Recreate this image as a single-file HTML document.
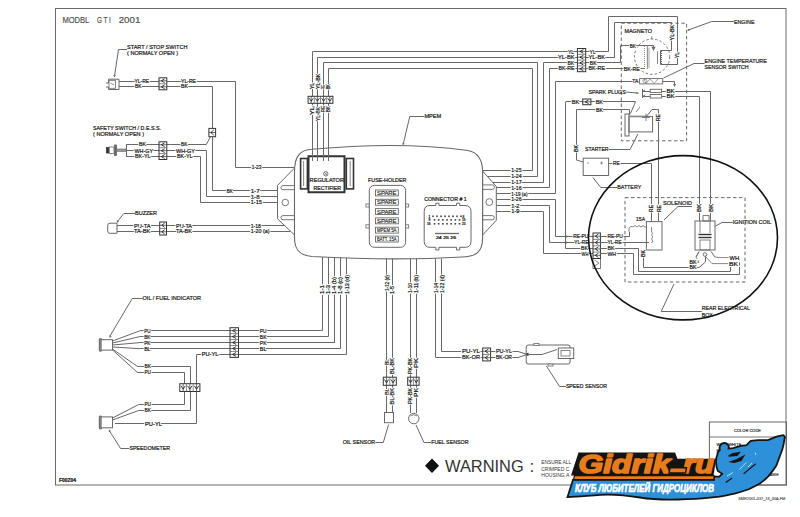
<!DOCTYPE html>
<html><head><meta charset="utf-8"><style>
html,body{margin:0;padding:0;background:#fff;width:800px;height:517px;overflow:hidden}
svg{display:block;font-family:"Liberation Sans",sans-serif}
.h{paint-order:stroke fill;stroke:#fff;stroke-width:2.2px;stroke-linejoin:round}
</style></head><body>
<svg width="800" height="517" viewBox="0 0 800 517">
<rect x="55.5" y="8.5" width="730.5" height="476.5" rx="0" fill="none" stroke="#6a6a6a" stroke-width="1"/>
<text x="62.4" y="23" font-size="9.9" font-weight="normal" fill="#505050" stroke="#505050" stroke-width="0.2" text-anchor="start" textLength="26.9" lengthAdjust="spacingAndGlyphs">MODBL</text>
<text x="96.9" y="23" font-size="9.9" font-weight="normal" fill="#505050" stroke="#505050" stroke-width="0.2" text-anchor="start" textLength="13.8" lengthAdjust="spacingAndGlyphs">G T I</text>
<text x="118.7" y="23" font-size="9.9" font-weight="normal" fill="#505050" stroke="#505050" stroke-width="0.2" text-anchor="start" textLength="21.7" lengthAdjust="spacingAndGlyphs">2001</text>
<text x="127" y="48.6" font-size="6.1" font-weight="normal" fill="#1a1a1a" stroke="#1a1a1a" stroke-width="0.22" text-anchor="start" textLength="60.4" lengthAdjust="spacingAndGlyphs">START / STOP SWITCH</text>
<text x="127" y="55.3" font-size="6.1" font-weight="normal" fill="#1a1a1a" stroke="#1a1a1a" stroke-width="0.22" text-anchor="start" textLength="51" lengthAdjust="spacingAndGlyphs">( NORMALY OPEN )</text>
<polyline points="127,49.5 118.5,49.5 114.5,76" fill="none" stroke="#686868" stroke-width="1"/>
<polygon points="114.5,77.5 113.25,75 115.75,75" fill="#686868"/>
<polyline points="119,81.5 235.5,81.5 235.5,167.5 295,167.5" fill="none" stroke="#686868" stroke-width="1"/>
<polyline points="119,86.5 212.5,86.5 212.5,190.5 278,190.5" fill="none" stroke="#686868" stroke-width="1"/>
<text x="134.5" y="83.46" font-size="5.6" font-weight="normal" fill="#fff" stroke="#fff" stroke-width="2.2" text-anchor="start" textLength="14.5" lengthAdjust="spacingAndGlyphs">YL-RE</text>
<text x="134.5" y="83.46" font-size="5.6" font-weight="normal" fill="#1a1a1a" stroke="#1a1a1a" stroke-width="0.22" text-anchor="start" textLength="14.5" lengthAdjust="spacingAndGlyphs">YL-RE</text>
<text x="135" y="88.46" font-size="5.6" font-weight="normal" fill="#fff" stroke="#fff" stroke-width="2.2" text-anchor="start" textLength="6.5" lengthAdjust="spacingAndGlyphs">BK</text>
<text x="135" y="88.46" font-size="5.6" font-weight="normal" fill="#1a1a1a" stroke="#1a1a1a" stroke-width="0.22" text-anchor="start" textLength="6.5" lengthAdjust="spacingAndGlyphs">BK</text>
<text x="181" y="83.46" font-size="5.6" font-weight="normal" fill="#fff" stroke="#fff" stroke-width="2.2" text-anchor="start" textLength="15" lengthAdjust="spacingAndGlyphs">YL-RE</text>
<text x="181" y="83.46" font-size="5.6" font-weight="normal" fill="#1a1a1a" stroke="#1a1a1a" stroke-width="0.22" text-anchor="start" textLength="15" lengthAdjust="spacingAndGlyphs">YL-RE</text>
<text x="181" y="88.46" font-size="5.6" font-weight="normal" fill="#fff" stroke="#fff" stroke-width="2.2" text-anchor="start" textLength="7" lengthAdjust="spacingAndGlyphs">BK</text>
<text x="181" y="88.46" font-size="5.6" font-weight="normal" fill="#1a1a1a" stroke="#1a1a1a" stroke-width="0.22" text-anchor="start" textLength="7" lengthAdjust="spacingAndGlyphs">BK</text>
<text x="251.7" y="168.96" font-size="5.6" font-weight="normal" fill="#fff" stroke="#fff" stroke-width="2.2" text-anchor="start" textLength="9.7" lengthAdjust="spacingAndGlyphs">1-23</text>
<text x="251.7" y="168.96" font-size="5.6" font-weight="normal" fill="#1a1a1a" stroke="#1a1a1a" stroke-width="0.22" text-anchor="start" textLength="9.7" lengthAdjust="spacingAndGlyphs">1-23</text>
<text x="226.8" y="192.76" font-size="5.6" font-weight="normal" fill="#fff" stroke="#fff" stroke-width="2.2" text-anchor="start" textLength="6" lengthAdjust="spacingAndGlyphs">BK</text>
<text x="226.8" y="192.76" font-size="5.6" font-weight="normal" fill="#1a1a1a" stroke="#1a1a1a" stroke-width="0.22" text-anchor="start" textLength="6" lengthAdjust="spacingAndGlyphs">BK</text>
<text x="250.7" y="192.76" font-size="5.6" font-weight="normal" fill="#fff" stroke="#fff" stroke-width="2.2" text-anchor="start" textLength="8.9" lengthAdjust="spacingAndGlyphs">1-7</text>
<text x="250.7" y="192.76" font-size="5.6" font-weight="normal" fill="#1a1a1a" stroke="#1a1a1a" stroke-width="0.22" text-anchor="start" textLength="8.9" lengthAdjust="spacingAndGlyphs">1-7</text>
<rect x="159" y="77.8" width="7.8" height="12" rx="0" fill="#fff" stroke="#333" stroke-width="1"/>
<line x1="159" y1="80.8" x2="166.8" y2="80.8" stroke="#444" stroke-width="0.8"/>
<polyline points="164.62,78.88 161.34,80.8 164.62,82.72" fill="none" stroke="#222" stroke-width="0.9"/>
<line x1="159" y1="83.8" x2="166.8" y2="83.8" stroke="#555" stroke-width="0.7"/>
<line x1="159" y1="86.8" x2="166.8" y2="86.8" stroke="#444" stroke-width="0.8"/>
<polyline points="164.62,84.88 161.34,86.8 164.62,88.72" fill="none" stroke="#222" stroke-width="0.9"/>
<path d="M106,83 L108.5,83 L108.5,79.2 L119,79.2 L119,89.5 L108.5,89.5 L108.5,87 L106,87" fill="none" stroke="#686868" stroke-width="1"/>
<rect x="109" y="80.3" width="6.5" height="8" rx="0" fill="none" stroke="#686868" stroke-width="0.8"/>
<polyline points="110.5,83 114,85" fill="none" stroke="#686868" stroke-width="0.8"/>
<rect x="208.9" y="128.4" width="6.7" height="8.3" rx="0" fill="#fff" stroke="#333" stroke-width="1"/>
<line x1="208.9" y1="132.55" x2="215.6" y2="132.55" stroke="#444" stroke-width="0.8"/>
<polyline points="213.72,129.89 210.91,132.55 213.72,135.21" fill="none" stroke="#222" stroke-width="0.9"/>
<text x="93" y="129.6" font-size="6.1" font-weight="normal" fill="#1a1a1a" stroke="#1a1a1a" stroke-width="0.22" text-anchor="start" textLength="68" lengthAdjust="spacingAndGlyphs">SAFETY SWITCH / D.E.S.S.</text>
<text x="93" y="135.9" font-size="6.1" font-weight="normal" fill="#1a1a1a" stroke="#1a1a1a" stroke-width="0.22" text-anchor="start" textLength="51" lengthAdjust="spacingAndGlyphs">( NORMALY OPEN )</text>
<rect x="106.5" y="147.5" width="2.5" height="5.5" rx="0" fill="#333" stroke="#333" stroke-width="0.8"/>
<rect x="109" y="147" width="5" height="6.5" rx="0" fill="none" stroke="#686868" stroke-width="0.8"/>
<rect x="114.5" y="145" width="2" height="10.5" rx="0" fill="#666" stroke="#686868" stroke-width="0.8"/>
<rect x="116.5" y="149" width="9.5" height="2.5" rx="0" fill="#999" stroke="#686868" stroke-width="0.6"/>
<polyline points="126.5,144.5 126.5,156.5" fill="none" stroke="#686868" stroke-width="1"/>
<polyline points="126.2,144.5 206.3,144.5 210.5,136.7" fill="none" stroke="#686868" stroke-width="1"/>
<polyline points="126.2,150.5 206.5,150.5 206.5,196.5 278,196.5" fill="none" stroke="#686868" stroke-width="1"/>
<polyline points="126.2,156.5 200.5,156.5 200.5,202.5 278,202.5" fill="none" stroke="#686868" stroke-width="1"/>
<text x="139" y="146.46" font-size="5.6" font-weight="normal" fill="#fff" stroke="#fff" stroke-width="2.2" text-anchor="start" textLength="7" lengthAdjust="spacingAndGlyphs">BK</text>
<text x="139" y="146.46" font-size="5.6" font-weight="normal" fill="#1a1a1a" stroke="#1a1a1a" stroke-width="0.22" text-anchor="start" textLength="7" lengthAdjust="spacingAndGlyphs">BK</text>
<text x="134.5" y="152.56" font-size="5.6" font-weight="normal" fill="#fff" stroke="#fff" stroke-width="2.2" text-anchor="start" textLength="18.5" lengthAdjust="spacingAndGlyphs">WH-GY</text>
<text x="134.5" y="152.56" font-size="5.6" font-weight="normal" fill="#1a1a1a" stroke="#1a1a1a" stroke-width="0.22" text-anchor="start" textLength="18.5" lengthAdjust="spacingAndGlyphs">WH-GY</text>
<text x="135" y="158.26" font-size="5.6" font-weight="normal" fill="#fff" stroke="#fff" stroke-width="2.2" text-anchor="start" textLength="15.5" lengthAdjust="spacingAndGlyphs">BK-YL</text>
<text x="135" y="158.26" font-size="5.6" font-weight="normal" fill="#1a1a1a" stroke="#1a1a1a" stroke-width="0.22" text-anchor="start" textLength="15.5" lengthAdjust="spacingAndGlyphs">BK-YL</text>
<text x="181" y="146.46" font-size="5.6" font-weight="normal" fill="#fff" stroke="#fff" stroke-width="2.2" text-anchor="start" textLength="6.4" lengthAdjust="spacingAndGlyphs">BK</text>
<text x="181" y="146.46" font-size="5.6" font-weight="normal" fill="#1a1a1a" stroke="#1a1a1a" stroke-width="0.22" text-anchor="start" textLength="6.4" lengthAdjust="spacingAndGlyphs">BK</text>
<text x="176" y="152.56" font-size="5.6" font-weight="normal" fill="#fff" stroke="#fff" stroke-width="2.2" text-anchor="start" textLength="19" lengthAdjust="spacingAndGlyphs">WH-GY</text>
<text x="176" y="152.56" font-size="5.6" font-weight="normal" fill="#1a1a1a" stroke="#1a1a1a" stroke-width="0.22" text-anchor="start" textLength="19" lengthAdjust="spacingAndGlyphs">WH-GY</text>
<text x="177" y="158.26" font-size="5.6" font-weight="normal" fill="#fff" stroke="#fff" stroke-width="2.2" text-anchor="start" textLength="15.5" lengthAdjust="spacingAndGlyphs">BK-YL</text>
<text x="177" y="158.26" font-size="5.6" font-weight="normal" fill="#1a1a1a" stroke="#1a1a1a" stroke-width="0.22" text-anchor="start" textLength="15.5" lengthAdjust="spacingAndGlyphs">BK-YL</text>
<text x="250.7" y="198.76" font-size="5.6" font-weight="normal" fill="#fff" stroke="#fff" stroke-width="2.2" text-anchor="start" textLength="8.9" lengthAdjust="spacingAndGlyphs">1-8</text>
<text x="250.7" y="198.76" font-size="5.6" font-weight="normal" fill="#1a1a1a" stroke="#1a1a1a" stroke-width="0.22" text-anchor="start" textLength="8.9" lengthAdjust="spacingAndGlyphs">1-8</text>
<text x="250.7" y="204.16" font-size="5.6" font-weight="normal" fill="#fff" stroke="#fff" stroke-width="2.2" text-anchor="start" textLength="11.3" lengthAdjust="spacingAndGlyphs">1-15</text>
<text x="250.7" y="204.16" font-size="5.6" font-weight="normal" fill="#1a1a1a" stroke="#1a1a1a" stroke-width="0.22" text-anchor="start" textLength="11.3" lengthAdjust="spacingAndGlyphs">1-15</text>
<rect x="159" y="141.8" width="7.8" height="17.7" rx="0" fill="#fff" stroke="#333" stroke-width="1"/>
<line x1="159" y1="144.75" x2="166.8" y2="144.75" stroke="#444" stroke-width="0.8"/>
<polyline points="164.62,142.86 161.34,144.75 164.62,146.64" fill="none" stroke="#222" stroke-width="0.9"/>
<line x1="159" y1="147.7" x2="166.8" y2="147.7" stroke="#555" stroke-width="0.7"/>
<line x1="159" y1="150.65" x2="166.8" y2="150.65" stroke="#444" stroke-width="0.8"/>
<polyline points="164.62,148.76 161.34,150.65 164.62,152.54" fill="none" stroke="#222" stroke-width="0.9"/>
<line x1="159" y1="153.6" x2="166.8" y2="153.6" stroke="#555" stroke-width="0.7"/>
<line x1="159" y1="156.55" x2="166.8" y2="156.55" stroke="#444" stroke-width="0.8"/>
<polyline points="164.62,154.66 161.34,156.55 164.62,158.44" fill="none" stroke="#222" stroke-width="0.9"/>
<text x="135" y="215" font-size="6.1" font-weight="normal" fill="#1a1a1a" stroke="#1a1a1a" stroke-width="0.22" text-anchor="start" textLength="22" lengthAdjust="spacingAndGlyphs">BUZZER</text>
<polyline points="135,213.5 123.8,213.5 117.5,221.5" fill="none" stroke="#686868" stroke-width="1"/>
<polygon points="117,223 116.92,220.21 119.19,221.26" fill="#686868"/>
<path d="M110,223.2 L117,223.2 L117,233.3 L110,233.3 Q107.7,233.3 107.7,231 L107.7,225.5 Q107.7,223.2 110,223.2 Z" fill="none" stroke="#686868" stroke-width="1"/>
<polyline points="117,225.5 285,225.5" fill="none" stroke="#686868" stroke-width="1"/>
<polyline points="117,231.5 290,231.5" fill="none" stroke="#686868" stroke-width="1"/>
<text x="134" y="227.66" font-size="5.6" font-weight="normal" fill="#fff" stroke="#fff" stroke-width="2.2" text-anchor="start" textLength="16.4" lengthAdjust="spacingAndGlyphs">PU-TA</text>
<text x="134" y="227.66" font-size="5.6" font-weight="normal" fill="#1a1a1a" stroke="#1a1a1a" stroke-width="0.22" text-anchor="start" textLength="16.4" lengthAdjust="spacingAndGlyphs">PU-TA</text>
<text x="134" y="233.36" font-size="5.6" font-weight="normal" fill="#fff" stroke="#fff" stroke-width="2.2" text-anchor="start" textLength="16.4" lengthAdjust="spacingAndGlyphs">TA-BK</text>
<text x="134" y="233.36" font-size="5.6" font-weight="normal" fill="#1a1a1a" stroke="#1a1a1a" stroke-width="0.22" text-anchor="start" textLength="16.4" lengthAdjust="spacingAndGlyphs">TA-BK</text>
<text x="176" y="227.66" font-size="5.6" font-weight="normal" fill="#fff" stroke="#fff" stroke-width="2.2" text-anchor="start" textLength="16" lengthAdjust="spacingAndGlyphs">PU-TA</text>
<text x="176" y="227.66" font-size="5.6" font-weight="normal" fill="#1a1a1a" stroke="#1a1a1a" stroke-width="0.22" text-anchor="start" textLength="16" lengthAdjust="spacingAndGlyphs">PU-TA</text>
<text x="176" y="233.36" font-size="5.6" font-weight="normal" fill="#fff" stroke="#fff" stroke-width="2.2" text-anchor="start" textLength="16" lengthAdjust="spacingAndGlyphs">TA-BK</text>
<text x="176" y="233.36" font-size="5.6" font-weight="normal" fill="#1a1a1a" stroke="#1a1a1a" stroke-width="0.22" text-anchor="start" textLength="16" lengthAdjust="spacingAndGlyphs">TA-BK</text>
<text x="250.7" y="227.66" font-size="5.6" font-weight="normal" fill="#fff" stroke="#fff" stroke-width="2.2" text-anchor="start" textLength="10.3" lengthAdjust="spacingAndGlyphs">1-18</text>
<text x="250.7" y="227.66" font-size="5.6" font-weight="normal" fill="#1a1a1a" stroke="#1a1a1a" stroke-width="0.22" text-anchor="start" textLength="10.3" lengthAdjust="spacingAndGlyphs">1-18</text>
<text x="250.7" y="233.36" font-size="5.6" font-weight="normal" fill="#fff" stroke="#fff" stroke-width="2.2" text-anchor="start" textLength="18.8" lengthAdjust="spacingAndGlyphs">1-20 (a)</text>
<text x="250.7" y="233.36" font-size="5.6" font-weight="normal" fill="#1a1a1a" stroke="#1a1a1a" stroke-width="0.22" text-anchor="start" textLength="18.8" lengthAdjust="spacingAndGlyphs">1-20 (a)</text>
<rect x="159.7" y="222" width="6.8" height="13" rx="0" fill="#fff" stroke="#333" stroke-width="1"/>
<line x1="159.7" y1="225.25" x2="166.5" y2="225.25" stroke="#444" stroke-width="0.8"/>
<polyline points="164.6,223.17 161.74,225.25 164.6,227.33" fill="none" stroke="#222" stroke-width="0.9"/>
<line x1="159.7" y1="228.5" x2="166.5" y2="228.5" stroke="#555" stroke-width="0.7"/>
<line x1="159.7" y1="231.75" x2="166.5" y2="231.75" stroke="#444" stroke-width="0.8"/>
<polyline points="164.6,229.67 161.74,231.75 164.6,233.83" fill="none" stroke="#222" stroke-width="0.9"/>
<polyline points="312.5,161 312.5,51.5 577.4,51.5" fill="none" stroke="#686868" stroke-width="1"/>
<polyline points="585.7,51.5 608.5,51.5 608.5,16.5 677.5,16.5 677.5,64.5 660.5,64.5 660.5,50.5 671.7,50.5" fill="none" stroke="#686868" stroke-width="1"/>
<polyline points="317.5,161 317.5,57.5 577.4,57.5" fill="none" stroke="#686868" stroke-width="1"/>
<polyline points="585.7,57.5 614.5,57.5 614.5,22.5 671.5,22.5 671.5,50.2" fill="none" stroke="#686868" stroke-width="1"/>
<polyline points="323.5,161 323.5,62.5 537.5,62.5 537.5,176.5 481,176.5" fill="none" stroke="#686868" stroke-width="1"/>
<polyline points="328.5,161 328.5,68.5 532.5,68.5 532.5,170.5 481,170.5" fill="none" stroke="#686868" stroke-width="1"/>
<polyline points="481,182.5 543.5,182.5 543.5,62.5 577.4,62.5" fill="none" stroke="#686868" stroke-width="1"/>
<polyline points="585.7,62.5 620.5,62.5 620.5,45.5 646,45.5" fill="none" stroke="#686868" stroke-width="1"/>
<polyline points="481,187.5 549.5,187.5 549.5,68.5 577.4,68.5" fill="none" stroke="#686868" stroke-width="1"/>
<polyline points="585.7,68.5 592.5,68.5 592.5,68.5 644.7,68.5" fill="none" stroke="#686868" stroke-width="1"/>
<rect x="308.1" y="96.3" width="24.8" height="7" rx="0" fill="#fff" stroke="#333" stroke-width="1"/>
<line x1="311.2" y1="96.3" x2="311.2" y2="103.3" stroke="#444" stroke-width="0.8"/>
<polyline points="309.22,98.26 311.2,101.2 313.18,98.26" fill="none" stroke="#222" stroke-width="0.9"/>
<line x1="314.3" y1="96.3" x2="314.3" y2="103.3" stroke="#555" stroke-width="0.7"/>
<line x1="317.4" y1="96.3" x2="317.4" y2="103.3" stroke="#444" stroke-width="0.8"/>
<polyline points="315.42,98.26 317.4,101.2 319.38,98.26" fill="none" stroke="#222" stroke-width="0.9"/>
<line x1="320.5" y1="96.3" x2="320.5" y2="103.3" stroke="#555" stroke-width="0.7"/>
<line x1="323.6" y1="96.3" x2="323.6" y2="103.3" stroke="#444" stroke-width="0.8"/>
<polyline points="321.62,98.26 323.6,101.2 325.58,98.26" fill="none" stroke="#222" stroke-width="0.9"/>
<line x1="326.7" y1="96.3" x2="326.7" y2="103.3" stroke="#555" stroke-width="0.7"/>
<line x1="329.8" y1="96.3" x2="329.8" y2="103.3" stroke="#444" stroke-width="0.8"/>
<polyline points="327.82,98.26 329.8,101.2 331.78,98.26" fill="none" stroke="#222" stroke-width="0.9"/>
<text x="313.96" y="89.1" font-size="5.6" font-weight="normal" fill="#fff" stroke="#fff" stroke-width="2.2" transform="rotate(-90 313.96 89.1)" textLength="6.2" lengthAdjust="spacingAndGlyphs">YL</text>
<text x="313.96" y="89.1" font-size="5.6" font-weight="normal" fill="#1a1a1a" stroke="#1a1a1a" stroke-width="0.22" transform="rotate(-90 313.96 89.1)" textLength="6.2" lengthAdjust="spacingAndGlyphs">YL</text>
<text x="319.76" y="89.1" font-size="5.6" font-weight="normal" fill="#fff" stroke="#fff" stroke-width="2.2" transform="rotate(-90 319.76 89.1)" textLength="15.5" lengthAdjust="spacingAndGlyphs">YL-BK</text>
<text x="319.76" y="89.1" font-size="5.6" font-weight="normal" fill="#1a1a1a" stroke="#1a1a1a" stroke-width="0.22" transform="rotate(-90 319.76 89.1)" textLength="15.5" lengthAdjust="spacingAndGlyphs">YL-BK</text>
<text x="325.06" y="89.1" font-size="5.6" font-weight="normal" fill="#fff" stroke="#fff" stroke-width="2.2" transform="rotate(-90 325.06 89.1)" textLength="4.1" lengthAdjust="spacingAndGlyphs">RE</text>
<text x="325.06" y="89.1" font-size="5.6" font-weight="normal" fill="#1a1a1a" stroke="#1a1a1a" stroke-width="0.22" transform="rotate(-90 325.06 89.1)" textLength="4.1" lengthAdjust="spacingAndGlyphs">RE</text>
<text x="330.26" y="89.1" font-size="5.6" font-weight="normal" fill="#fff" stroke="#fff" stroke-width="2.2" transform="rotate(-90 330.26 89.1)" textLength="4.8" lengthAdjust="spacingAndGlyphs">BK</text>
<text x="330.26" y="89.1" font-size="5.6" font-weight="normal" fill="#1a1a1a" stroke="#1a1a1a" stroke-width="0.22" transform="rotate(-90 330.26 89.1)" textLength="4.8" lengthAdjust="spacingAndGlyphs">BK</text>
<text x="313.96" y="115.3" font-size="5.6" font-weight="normal" fill="#fff" stroke="#fff" stroke-width="2.2" transform="rotate(-90 313.96 115.3)" textLength="9.3" lengthAdjust="spacingAndGlyphs">YL</text>
<text x="313.96" y="115.3" font-size="5.6" font-weight="normal" fill="#1a1a1a" stroke="#1a1a1a" stroke-width="0.22" transform="rotate(-90 313.96 115.3)" textLength="9.3" lengthAdjust="spacingAndGlyphs">YL</text>
<text x="319.76" y="121" font-size="5.6" font-weight="normal" fill="#fff" stroke="#fff" stroke-width="2.2" transform="rotate(-90 319.76 121)" textLength="14" lengthAdjust="spacingAndGlyphs">YL-BK</text>
<text x="319.76" y="121" font-size="5.6" font-weight="normal" fill="#1a1a1a" stroke="#1a1a1a" stroke-width="0.22" transform="rotate(-90 319.76 121)" textLength="14" lengthAdjust="spacingAndGlyphs">YL-BK</text>
<text x="325.06" y="111.9" font-size="5.6" font-weight="normal" fill="#fff" stroke="#fff" stroke-width="2.2" transform="rotate(-90 325.06 111.9)" textLength="5.9" lengthAdjust="spacingAndGlyphs">RE</text>
<text x="325.06" y="111.9" font-size="5.6" font-weight="normal" fill="#1a1a1a" stroke="#1a1a1a" stroke-width="0.22" transform="rotate(-90 325.06 111.9)" textLength="5.9" lengthAdjust="spacingAndGlyphs">RE</text>
<text x="330.26" y="112.3" font-size="5.6" font-weight="normal" fill="#fff" stroke="#fff" stroke-width="2.2" transform="rotate(-90 330.26 112.3)" textLength="6.3" lengthAdjust="spacingAndGlyphs">BK</text>
<text x="330.26" y="112.3" font-size="5.6" font-weight="normal" fill="#1a1a1a" stroke="#1a1a1a" stroke-width="0.22" transform="rotate(-90 330.26 112.3)" textLength="6.3" lengthAdjust="spacingAndGlyphs">BK</text>
<rect x="577.4" y="48.5" width="8.3" height="23.2" rx="0" fill="#fff" stroke="#333" stroke-width="1"/>
<line x1="577.4" y1="51.4" x2="585.7" y2="51.4" stroke="#444" stroke-width="0.8"/>
<polyline points="583.38,49.54 579.89,51.4 583.38,53.26" fill="none" stroke="#222" stroke-width="0.9"/>
<line x1="577.4" y1="54.3" x2="585.7" y2="54.3" stroke="#555" stroke-width="0.7"/>
<line x1="577.4" y1="57.2" x2="585.7" y2="57.2" stroke="#444" stroke-width="0.8"/>
<polyline points="583.38,55.34 579.89,57.2 583.38,59.06" fill="none" stroke="#222" stroke-width="0.9"/>
<line x1="577.4" y1="60.1" x2="585.7" y2="60.1" stroke="#555" stroke-width="0.7"/>
<line x1="577.4" y1="63" x2="585.7" y2="63" stroke="#444" stroke-width="0.8"/>
<polyline points="583.38,61.14 579.89,63 583.38,64.86" fill="none" stroke="#222" stroke-width="0.9"/>
<line x1="577.4" y1="65.9" x2="585.7" y2="65.9" stroke="#555" stroke-width="0.7"/>
<line x1="577.4" y1="68.8" x2="585.7" y2="68.8" stroke="#444" stroke-width="0.8"/>
<polyline points="583.38,66.94 579.89,68.8 583.38,70.66" fill="none" stroke="#222" stroke-width="0.9"/>
<text x="568" y="53.56" font-size="5.6" font-weight="normal" fill="#fff" stroke="#fff" stroke-width="2.2" text-anchor="start" textLength="6" lengthAdjust="spacingAndGlyphs">YL</text>
<text x="568" y="53.56" font-size="5.6" font-weight="normal" fill="#1a1a1a" stroke="#1a1a1a" stroke-width="0.22" text-anchor="start" textLength="6" lengthAdjust="spacingAndGlyphs">YL</text>
<text x="558" y="59.26" font-size="5.6" font-weight="normal" fill="#fff" stroke="#fff" stroke-width="2.2" text-anchor="start" textLength="16.5" lengthAdjust="spacingAndGlyphs">YL-BK</text>
<text x="558" y="59.26" font-size="5.6" font-weight="normal" fill="#1a1a1a" stroke="#1a1a1a" stroke-width="0.22" text-anchor="start" textLength="16.5" lengthAdjust="spacingAndGlyphs">YL-BK</text>
<text x="567.5" y="64.56" font-size="5.6" font-weight="normal" fill="#fff" stroke="#fff" stroke-width="2.2" text-anchor="start" textLength="6.5" lengthAdjust="spacingAndGlyphs">BK</text>
<text x="567.5" y="64.56" font-size="5.6" font-weight="normal" fill="#1a1a1a" stroke="#1a1a1a" stroke-width="0.22" text-anchor="start" textLength="6.5" lengthAdjust="spacingAndGlyphs">BK</text>
<text x="558.5" y="70.26" font-size="5.6" font-weight="normal" fill="#fff" stroke="#fff" stroke-width="2.2" text-anchor="start" textLength="16" lengthAdjust="spacingAndGlyphs">BK-RE</text>
<text x="558.5" y="70.26" font-size="5.6" font-weight="normal" fill="#1a1a1a" stroke="#1a1a1a" stroke-width="0.22" text-anchor="start" textLength="16" lengthAdjust="spacingAndGlyphs">BK-RE</text>
<text x="589.8" y="53.56" font-size="5.6" font-weight="normal" fill="#fff" stroke="#fff" stroke-width="2.2" text-anchor="start" textLength="5.7" lengthAdjust="spacingAndGlyphs">YL</text>
<text x="589.8" y="53.56" font-size="5.6" font-weight="normal" fill="#1a1a1a" stroke="#1a1a1a" stroke-width="0.22" text-anchor="start" textLength="5.7" lengthAdjust="spacingAndGlyphs">YL</text>
<text x="588.5" y="59.26" font-size="5.6" font-weight="normal" fill="#fff" stroke="#fff" stroke-width="2.2" text-anchor="start" textLength="16.5" lengthAdjust="spacingAndGlyphs">YL-BK</text>
<text x="588.5" y="59.26" font-size="5.6" font-weight="normal" fill="#1a1a1a" stroke="#1a1a1a" stroke-width="0.22" text-anchor="start" textLength="16.5" lengthAdjust="spacingAndGlyphs">YL-BK</text>
<text x="589.8" y="64.56" font-size="5.6" font-weight="normal" fill="#fff" stroke="#fff" stroke-width="2.2" text-anchor="start" textLength="6.7" lengthAdjust="spacingAndGlyphs">BK</text>
<text x="589.8" y="64.56" font-size="5.6" font-weight="normal" fill="#1a1a1a" stroke="#1a1a1a" stroke-width="0.22" text-anchor="start" textLength="6.7" lengthAdjust="spacingAndGlyphs">BK</text>
<text x="588.5" y="70.26" font-size="5.6" font-weight="normal" fill="#fff" stroke="#fff" stroke-width="2.2" text-anchor="start" textLength="16.5" lengthAdjust="spacingAndGlyphs">BK-RE</text>
<text x="588.5" y="70.26" font-size="5.6" font-weight="normal" fill="#1a1a1a" stroke="#1a1a1a" stroke-width="0.22" text-anchor="start" textLength="16.5" lengthAdjust="spacingAndGlyphs">BK-RE</text>
<text x="511.2" y="172.36" font-size="5.6" font-weight="normal" fill="#fff" stroke="#fff" stroke-width="2.2" text-anchor="start" textLength="10.4" lengthAdjust="spacingAndGlyphs">1-25</text>
<text x="511.2" y="172.36" font-size="5.6" font-weight="normal" fill="#1a1a1a" stroke="#1a1a1a" stroke-width="0.22" text-anchor="start" textLength="10.4" lengthAdjust="spacingAndGlyphs">1-25</text>
<text x="511.2" y="178.16" font-size="5.6" font-weight="normal" fill="#fff" stroke="#fff" stroke-width="2.2" text-anchor="start" textLength="10.4" lengthAdjust="spacingAndGlyphs">1-24</text>
<text x="511.2" y="178.16" font-size="5.6" font-weight="normal" fill="#1a1a1a" stroke="#1a1a1a" stroke-width="0.22" text-anchor="start" textLength="10.4" lengthAdjust="spacingAndGlyphs">1-24</text>
<text x="511.2" y="183.96" font-size="5.6" font-weight="normal" fill="#fff" stroke="#fff" stroke-width="2.2" text-anchor="start" textLength="10.4" lengthAdjust="spacingAndGlyphs">1-17</text>
<text x="511.2" y="183.96" font-size="5.6" font-weight="normal" fill="#1a1a1a" stroke="#1a1a1a" stroke-width="0.22" text-anchor="start" textLength="10.4" lengthAdjust="spacingAndGlyphs">1-17</text>
<text x="511.2" y="189.76" font-size="5.6" font-weight="normal" fill="#fff" stroke="#fff" stroke-width="2.2" text-anchor="start" textLength="10.4" lengthAdjust="spacingAndGlyphs">1-16</text>
<text x="511.2" y="189.76" font-size="5.6" font-weight="normal" fill="#1a1a1a" stroke="#1a1a1a" stroke-width="0.22" text-anchor="start" textLength="10.4" lengthAdjust="spacingAndGlyphs">1-16</text>
<polyline points="481,193.5 555.5,193.5 555.5,81.5 639.6,81.5" fill="none" stroke="#686868" stroke-width="1"/>
<text x="511.2" y="195.56" font-size="5.6" font-weight="normal" fill="#fff" stroke="#fff" stroke-width="2.2" text-anchor="start" textLength="16.3" lengthAdjust="spacingAndGlyphs">1-19 (a)</text>
<text x="511.2" y="195.56" font-size="5.6" font-weight="normal" fill="#1a1a1a" stroke="#1a1a1a" stroke-width="0.22" text-anchor="start" textLength="16.3" lengthAdjust="spacingAndGlyphs">1-19 (a)</text>
<text x="632.3" y="83.46" font-size="5.6" font-weight="normal" fill="#fff" stroke="#fff" stroke-width="2.2" text-anchor="start" textLength="6" lengthAdjust="spacingAndGlyphs">TA</text>
<text x="632.3" y="83.46" font-size="5.6" font-weight="normal" fill="#1a1a1a" stroke="#1a1a1a" stroke-width="0.22" text-anchor="start" textLength="6" lengthAdjust="spacingAndGlyphs">TA</text>
<polyline points="481,199.5 555.5,199.5 555.5,236.5 593,236.5" fill="none" stroke="#686868" stroke-width="1"/>
<text x="511.2" y="201.36" font-size="5.6" font-weight="normal" fill="#fff" stroke="#fff" stroke-width="2.2" text-anchor="start" textLength="10.4" lengthAdjust="spacingAndGlyphs">1-26</text>
<text x="511.2" y="201.36" font-size="5.6" font-weight="normal" fill="#1a1a1a" stroke="#1a1a1a" stroke-width="0.22" text-anchor="start" textLength="10.4" lengthAdjust="spacingAndGlyphs">1-26</text>
<polyline points="481,205.5 549.5,205.5 549.5,242.5 593,242.5" fill="none" stroke="#686868" stroke-width="1"/>
<text x="511.2" y="207.66" font-size="5.6" font-weight="normal" fill="#fff" stroke="#fff" stroke-width="2.2" text-anchor="start" textLength="8.3" lengthAdjust="spacingAndGlyphs">1-2</text>
<text x="511.2" y="207.66" font-size="5.6" font-weight="normal" fill="#1a1a1a" stroke="#1a1a1a" stroke-width="0.22" text-anchor="start" textLength="8.3" lengthAdjust="spacingAndGlyphs">1-2</text>
<polyline points="481,211.5 543.5,211.5 543.5,253.5 593,253.5" fill="none" stroke="#686868" stroke-width="1"/>
<text x="511.2" y="213.46" font-size="5.6" font-weight="normal" fill="#fff" stroke="#fff" stroke-width="2.2" text-anchor="start" textLength="8.3" lengthAdjust="spacingAndGlyphs">1-9</text>
<text x="511.2" y="213.46" font-size="5.6" font-weight="normal" fill="#1a1a1a" stroke="#1a1a1a" stroke-width="0.22" text-anchor="start" textLength="8.3" lengthAdjust="spacingAndGlyphs">1-9</text>
<polyline points="565.5,101.8 565.5,248.5 593,248.5" fill="none" stroke="#686868" stroke-width="1"/>
<polygon points="564.6,236.5 567.2,235.2 567.2,237.8" fill="#686868"/>
<polygon points="564.6,242.5 567.2,241.2 567.2,243.8" fill="#686868"/>
<text x="573.2" y="238.36" font-size="5.6" font-weight="normal" fill="#fff" stroke="#fff" stroke-width="2.2" text-anchor="start" textLength="15.2" lengthAdjust="spacingAndGlyphs">RE-PU</text>
<text x="573.2" y="238.36" font-size="5.6" font-weight="normal" fill="#1a1a1a" stroke="#1a1a1a" stroke-width="0.22" text-anchor="start" textLength="15.2" lengthAdjust="spacingAndGlyphs">RE-PU</text>
<text x="574.3" y="244.16" font-size="5.6" font-weight="normal" fill="#fff" stroke="#fff" stroke-width="2.2" text-anchor="start" textLength="14.1" lengthAdjust="spacingAndGlyphs">YL-RE</text>
<text x="574.3" y="244.16" font-size="5.6" font-weight="normal" fill="#1a1a1a" stroke="#1a1a1a" stroke-width="0.22" text-anchor="start" textLength="14.1" lengthAdjust="spacingAndGlyphs">YL-RE</text>
<text x="581" y="249.96" font-size="5.6" font-weight="normal" fill="#fff" stroke="#fff" stroke-width="2.2" text-anchor="start" textLength="6.8" lengthAdjust="spacingAndGlyphs">BK</text>
<text x="581" y="249.96" font-size="5.6" font-weight="normal" fill="#1a1a1a" stroke="#1a1a1a" stroke-width="0.22" text-anchor="start" textLength="6.8" lengthAdjust="spacingAndGlyphs">BK</text>
<text x="581.6" y="255.76" font-size="5.6" font-weight="normal" fill="#fff" stroke="#fff" stroke-width="2.2" text-anchor="start" textLength="6.8" lengthAdjust="spacingAndGlyphs">WH</text>
<text x="581.6" y="255.76" font-size="5.6" font-weight="normal" fill="#1a1a1a" stroke="#1a1a1a" stroke-width="0.22" text-anchor="start" textLength="6.8" lengthAdjust="spacingAndGlyphs">WH</text>
<path d="M294.5,168 L277.5,185.4 L277.5,218.8 L294.5,235 Z" fill="#fff" stroke="#686868" stroke-width="1"/>
<path d="M296,185.6 L283,185.6 A2.05,2.05 0 0 0 283,189.7 L296,189.7" fill="none" stroke="#686868" stroke-width="0.9"/>
<path d="M296,215.6 L283,215.6 A2.05,2.05 0 0 0 283,219.7 L296,219.7" fill="none" stroke="#686868" stroke-width="0.9"/>
<circle cx="285.3" cy="202.5" r="3.25" fill="none" stroke="#686868" stroke-width="0.9"/>
<path d="M482.6,171 L496.3,186.5 L496.3,220.3 L482.6,235 Z" fill="#fff" stroke="#686868" stroke-width="1"/>
<path d="M481,184.9 L492.2,184.9 A2.25,2.25 0 0 1 492.2,189.4 L481,189.4" fill="none" stroke="#686868" stroke-width="0.9"/>
<path d="M481,215.6 L492.2,215.6 A2.1,2.1 0 0 1 492.2,219.8 L481,219.8" fill="none" stroke="#686868" stroke-width="0.9"/>
<circle cx="489.3" cy="202.1" r="3.4" fill="none" stroke="#686868" stroke-width="0.9"/>
<path d="M294.5,172 C294.5,156 300,150 312,149.3 Q400,141 468,150.5 C478,152.5 482.6,159 482.6,172 L482.6,238 C482.6,252 476,256.5 462,257 Q395,261 312,256.5 C300,255.5 294.5,250 294.5,238 Z" fill="#fff" stroke="#686868" stroke-width="1.1"/>
<rect x="300.6" y="158.5" width="6.8" height="30.4" rx="0" fill="#fff" stroke="#333" stroke-width="1.6"/>
<rect x="346.3" y="158.5" width="7.2" height="30.4" rx="0" fill="#fff" stroke="#333" stroke-width="1.6"/>
<polyline points="303.6,161 303.6,186" fill="none" stroke="#686868" stroke-width="0.8"/>
<polyline points="350.2,161 350.2,186" fill="none" stroke="#686868" stroke-width="0.8"/>
<rect x="308.5" y="156.25" width="36" height="36" rx="0" fill="#fff" stroke="#333" stroke-width="2"/>
<polyline points="312.5,148 312.5,161" fill="none" stroke="#686868" stroke-width="1"/>
<polyline points="317.5,148 317.5,161" fill="none" stroke="#686868" stroke-width="1"/>
<polyline points="323.5,148 323.5,161" fill="none" stroke="#686868" stroke-width="1"/>
<polyline points="328.5,148 328.5,161" fill="none" stroke="#686868" stroke-width="1"/>
<circle cx="325.8" cy="173.8" r="2.2" fill="none" stroke="#686868" stroke-width="0.9"/>
<polyline points="324.3,172.3 327.3,175.3" fill="none" stroke="#686868" stroke-width="0.7"/>
<polyline points="327.3,172.3 324.3,175.3" fill="none" stroke="#686868" stroke-width="0.7"/>
<text x="309.6" y="182.2" font-size="5.2" font-weight="normal" fill="#1a1a1a" stroke="#1a1a1a" stroke-width="0.22" text-anchor="start" textLength="34.4" lengthAdjust="spacingAndGlyphs">REGULATOR</text>
<text x="313.5" y="189.7" font-size="5.2" font-weight="normal" fill="#1a1a1a" stroke="#1a1a1a" stroke-width="0.22" text-anchor="start" textLength="27.6" lengthAdjust="spacingAndGlyphs">RECTIFIER</text>
<text x="424.4" y="118.1" font-size="6.1" font-weight="normal" fill="#1a1a1a" stroke="#1a1a1a" stroke-width="0.22" text-anchor="start" textLength="16.9" lengthAdjust="spacingAndGlyphs">MPEM</text>
<polyline points="424.4,116.5 409.75,116.5 403.5,143" fill="none" stroke="#686868" stroke-width="1"/>
<polygon points="402.8,145.5 402.24,142.76 404.65,143.41" fill="#686868"/>
<text x="368.1" y="181.6" font-size="5.2" font-weight="normal" fill="#1a1a1a" stroke="#1a1a1a" stroke-width="0.22" text-anchor="start" textLength="38.3" lengthAdjust="spacingAndGlyphs">FUSE-HOLDER</text>
<rect x="365.9" y="204" width="3.4" height="3" rx="0" fill="none" stroke="#686868" stroke-width="0.8"/>
<rect x="365.9" y="224.8" width="3.4" height="3.2" rx="0" fill="none" stroke="#686868" stroke-width="0.8"/>
<rect x="405.6" y="204" width="3.1" height="3" rx="0" fill="none" stroke="#686868" stroke-width="0.8"/>
<rect x="405.6" y="224.8" width="3.1" height="3.2" rx="0" fill="none" stroke="#686868" stroke-width="0.8"/>
<rect x="369.3" y="185.4" width="36.3" height="61.9" rx="5" fill="#fff" stroke="#686868" stroke-width="1"/>
<rect x="375.5" y="190" width="22.8" height="5.9" rx="0" fill="none" stroke="#686868" stroke-width="0.9"/>
<text x="377" y="194.9" font-size="5" font-weight="normal" fill="#1a1a1a" stroke="#1a1a1a" stroke-width="0.15" text-anchor="start" textLength="19.5" lengthAdjust="spacingAndGlyphs">SPARE</text>
<rect x="375.5" y="199.3" width="22.8" height="5.9" rx="0" fill="none" stroke="#686868" stroke-width="0.9"/>
<text x="377" y="204.2" font-size="5" font-weight="normal" fill="#1a1a1a" stroke="#1a1a1a" stroke-width="0.15" text-anchor="start" textLength="19.5" lengthAdjust="spacingAndGlyphs">SPARE</text>
<rect x="375.5" y="208.6" width="22.8" height="5.9" rx="0" fill="none" stroke="#686868" stroke-width="0.9"/>
<text x="377" y="213.5" font-size="5" font-weight="normal" fill="#1a1a1a" stroke="#1a1a1a" stroke-width="0.15" text-anchor="start" textLength="19.5" lengthAdjust="spacingAndGlyphs">SPARE</text>
<rect x="375.5" y="217.9" width="22.8" height="5.9" rx="0" fill="none" stroke="#686868" stroke-width="0.9"/>
<text x="377" y="222.8" font-size="5" font-weight="normal" fill="#1a1a1a" stroke="#1a1a1a" stroke-width="0.15" text-anchor="start" textLength="19.5" lengthAdjust="spacingAndGlyphs">SPARE</text>
<rect x="375.5" y="227.2" width="22.8" height="5.9" rx="0" fill="none" stroke="#686868" stroke-width="0.9"/>
<text x="377" y="232.1" font-size="5" font-weight="normal" fill="#1a1a1a" stroke="#1a1a1a" stroke-width="0.15" text-anchor="start" textLength="19.5" lengthAdjust="spacingAndGlyphs">MPEM 5A</text>
<rect x="375.5" y="236.1" width="22.8" height="5.9" rx="0" fill="none" stroke="#686868" stroke-width="0.9"/>
<text x="377" y="241" font-size="5" font-weight="normal" fill="#1a1a1a" stroke="#1a1a1a" stroke-width="0.15" text-anchor="start" textLength="19.5" lengthAdjust="spacingAndGlyphs">BATT. 15A</text>
<text x="424.2" y="201" font-size="5.2" font-weight="normal" fill="#1a1a1a" stroke="#1a1a1a" stroke-width="0.22" text-anchor="start" textLength="42.5" lengthAdjust="spacingAndGlyphs">CONNECTOR # 1</text>
<path d="M430,205.5 L435.8,205.5 L435.8,203.2 L438.9,203.2 L438.9,205.5 L456.6,205.5 L456.6,203.2 L459.7,203.2 L459.7,205.5 L465,205.5 Q471,205.5 471,211.5 L471,241.3 Q471,247.3 465,247.3 L459.7,247.3 L459.7,250 L456.6,250 L456.6,247.3 L438.9,247.3 L438.9,250 L435.8,250 L435.8,247.3 L430,247.3 Q424.2,247.3 424.2,241.3 L424.2,211.5 Q424.2,205.5 430,205.5 Z" fill="none" stroke="#686868" stroke-width="1"/>
<rect x="432.2" y="215.5" width="1.6" height="1.6" rx="0" fill="#444" stroke="#686868" stroke-width="0"/>
<rect x="436.2" y="215.5" width="1.6" height="1.6" rx="0" fill="#444" stroke="#686868" stroke-width="0"/>
<rect x="440.2" y="215.5" width="1.6" height="1.6" rx="0" fill="#444" stroke="#686868" stroke-width="0"/>
<rect x="444.2" y="215.5" width="1.6" height="1.6" rx="0" fill="#444" stroke="#686868" stroke-width="0"/>
<rect x="448.2" y="215.5" width="1.6" height="1.6" rx="0" fill="#444" stroke="#686868" stroke-width="0"/>
<rect x="452.2" y="215.5" width="1.6" height="1.6" rx="0" fill="#444" stroke="#686868" stroke-width="0"/>
<rect x="456.2" y="215.5" width="1.6" height="1.6" rx="0" fill="#444" stroke="#686868" stroke-width="0"/>
<rect x="460.2" y="215.5" width="1.6" height="1.6" rx="0" fill="#444" stroke="#686868" stroke-width="0"/>
<rect x="433.7" y="219.1" width="1.6" height="1.6" rx="0" fill="#444" stroke="#686868" stroke-width="0"/>
<rect x="437.87" y="219.1" width="1.6" height="1.6" rx="0" fill="#444" stroke="#686868" stroke-width="0"/>
<rect x="442.03" y="219.1" width="1.6" height="1.6" rx="0" fill="#444" stroke="#686868" stroke-width="0"/>
<rect x="446.2" y="219.1" width="1.6" height="1.6" rx="0" fill="#444" stroke="#686868" stroke-width="0"/>
<rect x="450.37" y="219.1" width="1.6" height="1.6" rx="0" fill="#444" stroke="#686868" stroke-width="0"/>
<rect x="454.53" y="219.1" width="1.6" height="1.6" rx="0" fill="#444" stroke="#686868" stroke-width="0"/>
<rect x="458.7" y="219.1" width="1.6" height="1.6" rx="0" fill="#444" stroke="#686868" stroke-width="0"/>
<rect x="433.7" y="223" width="1.6" height="1.6" rx="0" fill="#444" stroke="#686868" stroke-width="0"/>
<rect x="437.87" y="223" width="1.6" height="1.6" rx="0" fill="#444" stroke="#686868" stroke-width="0"/>
<rect x="442.03" y="223" width="1.6" height="1.6" rx="0" fill="#444" stroke="#686868" stroke-width="0"/>
<rect x="446.2" y="223" width="1.6" height="1.6" rx="0" fill="#444" stroke="#686868" stroke-width="0"/>
<rect x="450.37" y="223" width="1.6" height="1.6" rx="0" fill="#444" stroke="#686868" stroke-width="0"/>
<rect x="454.53" y="223" width="1.6" height="1.6" rx="0" fill="#444" stroke="#686868" stroke-width="0"/>
<rect x="458.7" y="223" width="1.6" height="1.6" rx="0" fill="#444" stroke="#686868" stroke-width="0"/>
<text x="428.5" y="217.5" font-size="3.2" font-weight="normal" fill="#1a1a1a" stroke="#1a1a1a" stroke-width="0.22" text-anchor="start">1</text>
<text x="462.5" y="217.5" font-size="3.2" font-weight="normal" fill="#1a1a1a" stroke="#1a1a1a" stroke-width="0.22" text-anchor="start">8</text>
<text x="428.5" y="221.2" font-size="3.2" font-weight="normal" fill="#1a1a1a" stroke="#1a1a1a" stroke-width="0.22" text-anchor="start">9</text>
<text x="462" y="221.2" font-size="3.2" font-weight="normal" fill="#1a1a1a" stroke="#1a1a1a" stroke-width="0.22" text-anchor="start">15</text>
<text x="427" y="225" font-size="3.2" font-weight="normal" fill="#1a1a1a" stroke="#1a1a1a" stroke-width="0.22" text-anchor="start">16</text>
<text x="462" y="225" font-size="3.2" font-weight="normal" fill="#1a1a1a" stroke="#1a1a1a" stroke-width="0.22" text-anchor="start">23</text>
<polyline points="435,233.5 459,233.5" fill="none" stroke="#686868" stroke-width="1.3"/>
<text x="436" y="239" font-size="3.4" font-weight="normal" fill="#1a1a1a" stroke="#1a1a1a" stroke-width="0.22" text-anchor="start" textLength="20" lengthAdjust="spacingAndGlyphs">24  25  26</text>
<polyline points="322.5,257 322.5,330.5 139.9,330.5" fill="none" stroke="#686868" stroke-width="1"/>
<polyline points="328.5,257 328.5,336.5 139.9,336.5" fill="none" stroke="#686868" stroke-width="1"/>
<polyline points="334.5,257 334.5,342.5 139.9,342.5" fill="none" stroke="#686868" stroke-width="1"/>
<polyline points="340.5,257.5 340.5,348.5 139.9,348.5" fill="none" stroke="#686868" stroke-width="1"/>
<polyline points="346.5,258 346.5,354.5 196.5,354.5 196.5,423.5 115,423.5" fill="none" stroke="#686868" stroke-width="1"/>
<text x="323.96" y="294" font-size="5.6" font-weight="normal" fill="#fff" stroke="#fff" stroke-width="2.2" transform="rotate(-90 323.96 294)" textLength="9" lengthAdjust="spacingAndGlyphs">1-1</text>
<text x="323.96" y="294" font-size="5.6" font-weight="normal" fill="#1a1a1a" stroke="#1a1a1a" stroke-width="0.22" transform="rotate(-90 323.96 294)" textLength="9" lengthAdjust="spacingAndGlyphs">1-1</text>
<text x="329.96" y="294" font-size="5.6" font-weight="normal" fill="#fff" stroke="#fff" stroke-width="2.2" transform="rotate(-90 329.96 294)" textLength="9" lengthAdjust="spacingAndGlyphs">1-3</text>
<text x="329.96" y="294" font-size="5.6" font-weight="normal" fill="#1a1a1a" stroke="#1a1a1a" stroke-width="0.22" transform="rotate(-90 329.96 294)" textLength="9" lengthAdjust="spacingAndGlyphs">1-3</text>
<text x="335.96" y="294" font-size="5.6" font-weight="normal" fill="#fff" stroke="#fff" stroke-width="2.2" transform="rotate(-90 335.96 294)" textLength="17" lengthAdjust="spacingAndGlyphs">1-4 (b)</text>
<text x="335.96" y="294" font-size="5.6" font-weight="normal" fill="#1a1a1a" stroke="#1a1a1a" stroke-width="0.22" transform="rotate(-90 335.96 294)" textLength="17" lengthAdjust="spacingAndGlyphs">1-4 (b)</text>
<text x="341.96" y="294" font-size="5.6" font-weight="normal" fill="#fff" stroke="#fff" stroke-width="2.2" transform="rotate(-90 341.96 294)" textLength="17" lengthAdjust="spacingAndGlyphs">1-8 (c)</text>
<text x="341.96" y="294" font-size="5.6" font-weight="normal" fill="#1a1a1a" stroke="#1a1a1a" stroke-width="0.22" transform="rotate(-90 341.96 294)" textLength="17" lengthAdjust="spacingAndGlyphs">1-8 (c)</text>
<text x="348.56" y="294" font-size="5.6" font-weight="normal" fill="#fff" stroke="#fff" stroke-width="2.2" transform="rotate(-90 348.56 294)" textLength="19" lengthAdjust="spacingAndGlyphs">1-13 (d)</text>
<text x="348.56" y="294" font-size="5.6" font-weight="normal" fill="#1a1a1a" stroke="#1a1a1a" stroke-width="0.22" transform="rotate(-90 348.56 294)" textLength="19" lengthAdjust="spacingAndGlyphs">1-13 (d)</text>
<polyline points="112.5,341 139.9,330.8" fill="none" stroke="#686868" stroke-width="1"/>
<polyline points="112.5,343 139.9,336.6" fill="none" stroke="#686868" stroke-width="1"/>
<polyline points="112.5,345 139.9,342.6" fill="none" stroke="#686868" stroke-width="1"/>
<polyline points="112.5,347 139.9,348.7" fill="none" stroke="#686868" stroke-width="1"/>
<polyline points="112.5,349 137.5,366.5 190.5,366.5 190.5,410.5 138.7,410.5 112.5,420" fill="none" stroke="#686868" stroke-width="1"/>
<polyline points="112.5,350 137.5,372.5 184.5,372.5 184.5,404.5 138.7,404.5 112.5,418" fill="none" stroke="#686868" stroke-width="1"/>
<text x="144.2" y="332.76" font-size="5.6" font-weight="normal" fill="#fff" stroke="#fff" stroke-width="2.2" text-anchor="start" textLength="6.3" lengthAdjust="spacingAndGlyphs">PU</text>
<text x="144.2" y="332.76" font-size="5.6" font-weight="normal" fill="#1a1a1a" stroke="#1a1a1a" stroke-width="0.22" text-anchor="start" textLength="6.3" lengthAdjust="spacingAndGlyphs">PU</text>
<text x="144.2" y="338.56" font-size="5.6" font-weight="normal" fill="#fff" stroke="#fff" stroke-width="2.2" text-anchor="start" textLength="6.3" lengthAdjust="spacingAndGlyphs">BK</text>
<text x="144.2" y="338.56" font-size="5.6" font-weight="normal" fill="#1a1a1a" stroke="#1a1a1a" stroke-width="0.22" text-anchor="start" textLength="6.3" lengthAdjust="spacingAndGlyphs">BK</text>
<text x="144.2" y="344.56" font-size="5.6" font-weight="normal" fill="#fff" stroke="#fff" stroke-width="2.2" text-anchor="start" textLength="6.3" lengthAdjust="spacingAndGlyphs">PK</text>
<text x="144.2" y="344.56" font-size="5.6" font-weight="normal" fill="#1a1a1a" stroke="#1a1a1a" stroke-width="0.22" text-anchor="start" textLength="6.3" lengthAdjust="spacingAndGlyphs">PK</text>
<text x="144.2" y="350.66" font-size="5.6" font-weight="normal" fill="#fff" stroke="#fff" stroke-width="2.2" text-anchor="start" textLength="6.3" lengthAdjust="spacingAndGlyphs">BL</text>
<text x="144.2" y="350.66" font-size="5.6" font-weight="normal" fill="#1a1a1a" stroke="#1a1a1a" stroke-width="0.22" text-anchor="start" textLength="6.3" lengthAdjust="spacingAndGlyphs">BL</text>
<text x="259.8" y="332.76" font-size="5.6" font-weight="normal" fill="#fff" stroke="#fff" stroke-width="2.2" text-anchor="start" textLength="6.7" lengthAdjust="spacingAndGlyphs">PU</text>
<text x="259.8" y="332.76" font-size="5.6" font-weight="normal" fill="#1a1a1a" stroke="#1a1a1a" stroke-width="0.22" text-anchor="start" textLength="6.7" lengthAdjust="spacingAndGlyphs">PU</text>
<text x="259.8" y="338.56" font-size="5.6" font-weight="normal" fill="#fff" stroke="#fff" stroke-width="2.2" text-anchor="start" textLength="6.7" lengthAdjust="spacingAndGlyphs">BK</text>
<text x="259.8" y="338.56" font-size="5.6" font-weight="normal" fill="#1a1a1a" stroke="#1a1a1a" stroke-width="0.22" text-anchor="start" textLength="6.7" lengthAdjust="spacingAndGlyphs">BK</text>
<text x="259.8" y="344.56" font-size="5.6" font-weight="normal" fill="#fff" stroke="#fff" stroke-width="2.2" text-anchor="start" textLength="6.7" lengthAdjust="spacingAndGlyphs">PK</text>
<text x="259.8" y="344.56" font-size="5.6" font-weight="normal" fill="#1a1a1a" stroke="#1a1a1a" stroke-width="0.22" text-anchor="start" textLength="6.7" lengthAdjust="spacingAndGlyphs">PK</text>
<text x="259.8" y="350.66" font-size="5.6" font-weight="normal" fill="#fff" stroke="#fff" stroke-width="2.2" text-anchor="start" textLength="6.7" lengthAdjust="spacingAndGlyphs">BL</text>
<text x="259.8" y="350.66" font-size="5.6" font-weight="normal" fill="#1a1a1a" stroke="#1a1a1a" stroke-width="0.22" text-anchor="start" textLength="6.7" lengthAdjust="spacingAndGlyphs">BL</text>
<text x="201.8" y="356.36" font-size="5.6" font-weight="normal" fill="#fff" stroke="#fff" stroke-width="2.2" text-anchor="start" textLength="16.6" lengthAdjust="spacingAndGlyphs">PU-YL</text>
<text x="201.8" y="356.36" font-size="5.6" font-weight="normal" fill="#1a1a1a" stroke="#1a1a1a" stroke-width="0.22" text-anchor="start" textLength="16.6" lengthAdjust="spacingAndGlyphs">PU-YL</text>
<text x="145" y="425.56" font-size="5.6" font-weight="normal" fill="#fff" stroke="#fff" stroke-width="2.2" text-anchor="start" textLength="17" lengthAdjust="spacingAndGlyphs">PU-YL</text>
<text x="145" y="425.56" font-size="5.6" font-weight="normal" fill="#1a1a1a" stroke="#1a1a1a" stroke-width="0.22" text-anchor="start" textLength="17" lengthAdjust="spacingAndGlyphs">PU-YL</text>
<text x="144.5" y="368.36" font-size="5.6" font-weight="normal" fill="#fff" stroke="#fff" stroke-width="2.2" text-anchor="start" textLength="6.5" lengthAdjust="spacingAndGlyphs">BK</text>
<text x="144.5" y="368.36" font-size="5.6" font-weight="normal" fill="#1a1a1a" stroke="#1a1a1a" stroke-width="0.22" text-anchor="start" textLength="6.5" lengthAdjust="spacingAndGlyphs">BK</text>
<text x="144.5" y="374.36" font-size="5.6" font-weight="normal" fill="#fff" stroke="#fff" stroke-width="2.2" text-anchor="start" textLength="6.5" lengthAdjust="spacingAndGlyphs">PU</text>
<text x="144.5" y="374.36" font-size="5.6" font-weight="normal" fill="#1a1a1a" stroke="#1a1a1a" stroke-width="0.22" text-anchor="start" textLength="6.5" lengthAdjust="spacingAndGlyphs">PU</text>
<text x="144.5" y="405.96" font-size="5.6" font-weight="normal" fill="#fff" stroke="#fff" stroke-width="2.2" text-anchor="start" textLength="6.5" lengthAdjust="spacingAndGlyphs">PU</text>
<text x="144.5" y="405.96" font-size="5.6" font-weight="normal" fill="#1a1a1a" stroke="#1a1a1a" stroke-width="0.22" text-anchor="start" textLength="6.5" lengthAdjust="spacingAndGlyphs">PU</text>
<text x="144.5" y="411.96" font-size="5.6" font-weight="normal" fill="#fff" stroke="#fff" stroke-width="2.2" text-anchor="start" textLength="6.5" lengthAdjust="spacingAndGlyphs">BK</text>
<text x="144.5" y="411.96" font-size="5.6" font-weight="normal" fill="#1a1a1a" stroke="#1a1a1a" stroke-width="0.22" text-anchor="start" textLength="6.5" lengthAdjust="spacingAndGlyphs">BK</text>
<rect x="230" y="327.7" width="8.5" height="29.7" rx="0" fill="#fff" stroke="#333" stroke-width="1"/>
<line x1="230" y1="330.67" x2="238.5" y2="330.67" stroke="#444" stroke-width="0.8"/>
<polyline points="236.12,328.77 232.55,330.67 236.12,332.57" fill="none" stroke="#222" stroke-width="0.9"/>
<line x1="230" y1="333.64" x2="238.5" y2="333.64" stroke="#555" stroke-width="0.7"/>
<line x1="230" y1="336.61" x2="238.5" y2="336.61" stroke="#444" stroke-width="0.8"/>
<polyline points="236.12,334.71 232.55,336.61 236.12,338.51" fill="none" stroke="#222" stroke-width="0.9"/>
<line x1="230" y1="339.58" x2="238.5" y2="339.58" stroke="#555" stroke-width="0.7"/>
<line x1="230" y1="342.55" x2="238.5" y2="342.55" stroke="#444" stroke-width="0.8"/>
<polyline points="236.12,340.65 232.55,342.55 236.12,344.45" fill="none" stroke="#222" stroke-width="0.9"/>
<line x1="230" y1="345.52" x2="238.5" y2="345.52" stroke="#555" stroke-width="0.7"/>
<line x1="230" y1="348.49" x2="238.5" y2="348.49" stroke="#444" stroke-width="0.8"/>
<polyline points="236.12,346.59 232.55,348.49 236.12,350.39" fill="none" stroke="#222" stroke-width="0.9"/>
<line x1="230" y1="351.46" x2="238.5" y2="351.46" stroke="#555" stroke-width="0.7"/>
<line x1="230" y1="354.43" x2="238.5" y2="354.43" stroke="#444" stroke-width="0.8"/>
<polyline points="236.12,352.53 232.55,354.43 236.12,356.33" fill="none" stroke="#222" stroke-width="0.9"/>
<rect x="179.8" y="383.7" width="20.1" height="7.8" rx="0" fill="#fff" stroke="#333" stroke-width="1"/>
<line x1="183.15" y1="383.7" x2="183.15" y2="391.5" stroke="#444" stroke-width="0.8"/>
<polyline points="181.01,385.88 183.15,389.16 185.29,385.88" fill="none" stroke="#222" stroke-width="0.9"/>
<line x1="186.5" y1="383.7" x2="186.5" y2="391.5" stroke="#555" stroke-width="0.7"/>
<line x1="189.85" y1="383.7" x2="189.85" y2="391.5" stroke="#444" stroke-width="0.8"/>
<polyline points="187.71,385.88 189.85,389.16 191.99,385.88" fill="none" stroke="#222" stroke-width="0.9"/>
<line x1="193.2" y1="383.7" x2="193.2" y2="391.5" stroke="#555" stroke-width="0.7"/>
<line x1="196.55" y1="383.7" x2="196.55" y2="391.5" stroke="#444" stroke-width="0.8"/>
<polyline points="194.41,385.88 196.55,389.16 198.69,385.88" fill="none" stroke="#222" stroke-width="0.9"/>
<rect x="99.3" y="338.5" width="2.3" height="12.8" rx="0.8" fill="#999" stroke="#444" stroke-width="0.8"/>
<rect x="101.1" y="339.7" width="11.4" height="10.4" rx="0" fill="#fff" stroke="#686868" stroke-width="1"/>
<rect x="99.3" y="416" width="2.3" height="13" rx="0.8" fill="#999" stroke="#444" stroke-width="0.8"/>
<rect x="101.1" y="416.9" width="11.4" height="10.9" rx="0" fill="#fff" stroke="#686868" stroke-width="1"/>
<text x="142.6" y="299.8" font-size="6.1" font-weight="normal" fill="#1a1a1a" stroke="#1a1a1a" stroke-width="0.22" text-anchor="start" textLength="58.4" lengthAdjust="spacingAndGlyphs">OIL / FUEL INDICATOR</text>
<polyline points="142.6,298.5 132.2,298.5 110,336" fill="none" stroke="#686868" stroke-width="1"/>
<polygon points="109.5,338 109.42,335.21 111.69,336.26" fill="#686868"/>
<text x="129.5" y="450" font-size="6.1" font-weight="normal" fill="#1a1a1a" stroke="#1a1a1a" stroke-width="0.22" text-anchor="start" textLength="40.6" lengthAdjust="spacingAndGlyphs">SPEEDOMETER</text>
<polyline points="129.5,448.5 120.6,448.5 109.5,431" fill="none" stroke="#686868" stroke-width="1"/>
<polygon points="108.8,429.5 111.13,431.04 108.97,432.29" fill="#686868"/>
<polyline points="386.5,258.5 386.5,377.2" fill="none" stroke="#686868" stroke-width="1"/>
<polyline points="392.5,258.5 392.5,377.2" fill="none" stroke="#686868" stroke-width="1"/>
<polyline points="386.5,385.3 386.5,412.5" fill="none" stroke="#686868" stroke-width="1"/>
<polyline points="392.5,385.3 392.5,412.5" fill="none" stroke="#686868" stroke-width="1"/>
<text x="388.56" y="291" font-size="5.6" font-weight="normal" fill="#fff" stroke="#fff" stroke-width="2.2" transform="rotate(-90 388.56 291)" textLength="16" lengthAdjust="spacingAndGlyphs">1-12 (d)</text>
<text x="388.56" y="291" font-size="5.6" font-weight="normal" fill="#1a1a1a" stroke="#1a1a1a" stroke-width="0.22" transform="rotate(-90 388.56 291)" textLength="16" lengthAdjust="spacingAndGlyphs">1-12 (d)</text>
<text x="394.36" y="294" font-size="5.6" font-weight="normal" fill="#fff" stroke="#fff" stroke-width="2.2" transform="rotate(-90 394.36 294)" textLength="8" lengthAdjust="spacingAndGlyphs">1-5</text>
<text x="394.36" y="294" font-size="5.6" font-weight="normal" fill="#1a1a1a" stroke="#1a1a1a" stroke-width="0.22" transform="rotate(-90 394.36 294)" textLength="8" lengthAdjust="spacingAndGlyphs">1-5</text>
<text x="388.56" y="365" font-size="5.6" font-weight="normal" fill="#fff" stroke="#fff" stroke-width="2.2" transform="rotate(-90 388.56 365)" textLength="6" lengthAdjust="spacingAndGlyphs">BL</text>
<text x="388.56" y="365" font-size="5.6" font-weight="normal" fill="#1a1a1a" stroke="#1a1a1a" stroke-width="0.22" transform="rotate(-90 388.56 365)" textLength="6" lengthAdjust="spacingAndGlyphs">BL</text>
<text x="394.36" y="374" font-size="5.6" font-weight="normal" fill="#fff" stroke="#fff" stroke-width="2.2" transform="rotate(-90 394.36 374)" textLength="16" lengthAdjust="spacingAndGlyphs">BL-BK</text>
<text x="394.36" y="374" font-size="5.6" font-weight="normal" fill="#1a1a1a" stroke="#1a1a1a" stroke-width="0.22" transform="rotate(-90 394.36 374)" textLength="16" lengthAdjust="spacingAndGlyphs">BL-BK</text>
<text x="388.56" y="395" font-size="5.6" font-weight="normal" fill="#fff" stroke="#fff" stroke-width="2.2" transform="rotate(-90 388.56 395)" textLength="7" lengthAdjust="spacingAndGlyphs">BL</text>
<text x="388.56" y="395" font-size="5.6" font-weight="normal" fill="#1a1a1a" stroke="#1a1a1a" stroke-width="0.22" transform="rotate(-90 388.56 395)" textLength="7" lengthAdjust="spacingAndGlyphs">BL</text>
<text x="394.36" y="404.4" font-size="5.6" font-weight="normal" fill="#fff" stroke="#fff" stroke-width="2.2" transform="rotate(-90 394.36 404.4)" textLength="16.4" lengthAdjust="spacingAndGlyphs">BL-BK</text>
<text x="394.36" y="404.4" font-size="5.6" font-weight="normal" fill="#1a1a1a" stroke="#1a1a1a" stroke-width="0.22" transform="rotate(-90 394.36 404.4)" textLength="16.4" lengthAdjust="spacingAndGlyphs">BL-BK</text>
<rect x="383.3" y="377.2" width="13" height="8.1" rx="0" fill="#fff" stroke="#333" stroke-width="1"/>
<line x1="386.55" y1="377.2" x2="386.55" y2="385.3" stroke="#444" stroke-width="0.8"/>
<polyline points="384.47,379.47 386.55,382.87 388.63,379.47" fill="none" stroke="#222" stroke-width="0.9"/>
<line x1="389.8" y1="377.2" x2="389.8" y2="385.3" stroke="#555" stroke-width="0.7"/>
<line x1="393.05" y1="377.2" x2="393.05" y2="385.3" stroke="#444" stroke-width="0.8"/>
<polyline points="390.97,379.47 393.05,382.87 395.13,379.47" fill="none" stroke="#222" stroke-width="0.9"/>
<rect x="384.5" y="412.5" width="9" height="10.2" rx="0" fill="none" stroke="#686868" stroke-width="1"/>
<text x="342.7" y="444" font-size="6.1" font-weight="normal" fill="#1a1a1a" stroke="#1a1a1a" stroke-width="0.22" text-anchor="start" textLength="32.5" lengthAdjust="spacingAndGlyphs">OIL SENSOR</text>
<polyline points="375.5,442.5 383.3,442.5 388.6,424.5" fill="none" stroke="#686868" stroke-width="1"/>
<polyline points="410.5,258.5 410.5,377.2" fill="none" stroke="#686868" stroke-width="1"/>
<polyline points="416.5,258.5 416.5,377.2" fill="none" stroke="#686868" stroke-width="1"/>
<polyline points="410.5,385.3 410.5,413" fill="none" stroke="#686868" stroke-width="1"/>
<polyline points="416.5,385.3 416.5,413" fill="none" stroke="#686868" stroke-width="1"/>
<text x="412.36" y="293" font-size="5.6" font-weight="normal" fill="#fff" stroke="#fff" stroke-width="2.2" transform="rotate(-90 412.36 293)" textLength="10" lengthAdjust="spacingAndGlyphs">1-10</text>
<text x="412.36" y="293" font-size="5.6" font-weight="normal" fill="#1a1a1a" stroke="#1a1a1a" stroke-width="0.22" transform="rotate(-90 412.36 293)" textLength="10" lengthAdjust="spacingAndGlyphs">1-10</text>
<text x="417.96" y="293" font-size="5.6" font-weight="normal" fill="#fff" stroke="#fff" stroke-width="2.2" transform="rotate(-90 417.96 293)" textLength="18" lengthAdjust="spacingAndGlyphs">1-11 (b)</text>
<text x="417.96" y="293" font-size="5.6" font-weight="normal" fill="#1a1a1a" stroke="#1a1a1a" stroke-width="0.22" transform="rotate(-90 417.96 293)" textLength="18" lengthAdjust="spacingAndGlyphs">1-11 (b)</text>
<text x="412.36" y="374" font-size="5.6" font-weight="normal" fill="#fff" stroke="#fff" stroke-width="2.2" transform="rotate(-90 412.36 374)" textLength="16" lengthAdjust="spacingAndGlyphs">PK-BK</text>
<text x="412.36" y="374" font-size="5.6" font-weight="normal" fill="#1a1a1a" stroke="#1a1a1a" stroke-width="0.22" transform="rotate(-90 412.36 374)" textLength="16" lengthAdjust="spacingAndGlyphs">PK-BK</text>
<text x="417.96" y="368" font-size="5.6" font-weight="normal" fill="#fff" stroke="#fff" stroke-width="2.2" transform="rotate(-90 417.96 368)" textLength="10" lengthAdjust="spacingAndGlyphs">PK</text>
<text x="417.96" y="368" font-size="5.6" font-weight="normal" fill="#1a1a1a" stroke="#1a1a1a" stroke-width="0.22" transform="rotate(-90 417.96 368)" textLength="10" lengthAdjust="spacingAndGlyphs">PK</text>
<text x="412.36" y="404" font-size="5.6" font-weight="normal" fill="#fff" stroke="#fff" stroke-width="2.2" transform="rotate(-90 412.36 404)" textLength="16" lengthAdjust="spacingAndGlyphs">PK-BK</text>
<text x="412.36" y="404" font-size="5.6" font-weight="normal" fill="#1a1a1a" stroke="#1a1a1a" stroke-width="0.22" transform="rotate(-90 412.36 404)" textLength="16" lengthAdjust="spacingAndGlyphs">PK-BK</text>
<text x="417.96" y="397" font-size="5.6" font-weight="normal" fill="#fff" stroke="#fff" stroke-width="2.2" transform="rotate(-90 417.96 397)" textLength="9" lengthAdjust="spacingAndGlyphs">PK</text>
<text x="417.96" y="397" font-size="5.6" font-weight="normal" fill="#1a1a1a" stroke="#1a1a1a" stroke-width="0.22" transform="rotate(-90 417.96 397)" textLength="9" lengthAdjust="spacingAndGlyphs">PK</text>
<rect x="407.7" y="377.2" width="11.4" height="8.1" rx="0" fill="#fff" stroke="#333" stroke-width="1"/>
<line x1="410.55" y1="377.2" x2="410.55" y2="385.3" stroke="#444" stroke-width="0.8"/>
<polyline points="408.73,379.47 410.55,382.87 412.37,379.47" fill="none" stroke="#222" stroke-width="0.9"/>
<line x1="413.4" y1="377.2" x2="413.4" y2="385.3" stroke="#555" stroke-width="0.7"/>
<line x1="416.25" y1="377.2" x2="416.25" y2="385.3" stroke="#444" stroke-width="0.8"/>
<polyline points="414.43,379.47 416.25,382.87 418.07,379.47" fill="none" stroke="#222" stroke-width="0.9"/>
<circle cx="413.8" cy="418.6" r="5.2" fill="#fff" stroke="#686868" stroke-width="1"/>
<path d="M410.5,416 Q413.8,413.5 417,416" fill="none" stroke="#686868" stroke-width="0.8"/>
<text x="431.2" y="444" font-size="6.1" font-weight="normal" fill="#1a1a1a" stroke="#1a1a1a" stroke-width="0.22" text-anchor="start" textLength="37.4" lengthAdjust="spacingAndGlyphs">FUEL SENSOR</text>
<polyline points="431,442.5 424,442.5 416,425" fill="none" stroke="#686868" stroke-width="1"/>
<polyline points="441.5,258.5 441.5,351.5 482.7,351.5" fill="none" stroke="#686868" stroke-width="1"/>
<polyline points="435.5,258.5 435.5,357.5 482.7,357.5" fill="none" stroke="#686868" stroke-width="1"/>
<text x="437.56" y="293" font-size="5.6" font-weight="normal" fill="#fff" stroke="#fff" stroke-width="2.2" transform="rotate(-90 437.56 293)" textLength="10" lengthAdjust="spacingAndGlyphs">1-14</text>
<text x="437.56" y="293" font-size="5.6" font-weight="normal" fill="#1a1a1a" stroke="#1a1a1a" stroke-width="0.22" transform="rotate(-90 437.56 293)" textLength="10" lengthAdjust="spacingAndGlyphs">1-14</text>
<text x="443.56" y="293" font-size="5.6" font-weight="normal" fill="#fff" stroke="#fff" stroke-width="2.2" transform="rotate(-90 443.56 293)" textLength="18" lengthAdjust="spacingAndGlyphs">1-22 (d)</text>
<text x="443.56" y="293" font-size="5.6" font-weight="normal" fill="#1a1a1a" stroke="#1a1a1a" stroke-width="0.22" transform="rotate(-90 443.56 293)" textLength="18" lengthAdjust="spacingAndGlyphs">1-22 (d)</text>
<text x="462" y="353.26" font-size="5.6" font-weight="normal" fill="#fff" stroke="#fff" stroke-width="2.2" text-anchor="start" textLength="18" lengthAdjust="spacingAndGlyphs">PU-YL</text>
<text x="462" y="353.26" font-size="5.6" font-weight="normal" fill="#1a1a1a" stroke="#1a1a1a" stroke-width="0.22" text-anchor="start" textLength="18" lengthAdjust="spacingAndGlyphs">PU-YL</text>
<text x="462" y="359.26" font-size="5.6" font-weight="normal" fill="#fff" stroke="#fff" stroke-width="2.2" text-anchor="start" textLength="18" lengthAdjust="spacingAndGlyphs">BK-OR</text>
<text x="462" y="359.26" font-size="5.6" font-weight="normal" fill="#1a1a1a" stroke="#1a1a1a" stroke-width="0.22" text-anchor="start" textLength="18" lengthAdjust="spacingAndGlyphs">BK-OR</text>
<rect x="482.7" y="348" width="7.9" height="12.9" rx="0" fill="#fff" stroke="#333" stroke-width="1"/>
<line x1="482.7" y1="351.23" x2="490.6" y2="351.23" stroke="#444" stroke-width="0.8"/>
<polyline points="488.39,349.16 485.07,351.23 488.39,353.29" fill="none" stroke="#222" stroke-width="0.9"/>
<line x1="482.7" y1="354.45" x2="490.6" y2="354.45" stroke="#555" stroke-width="0.7"/>
<line x1="482.7" y1="357.67" x2="490.6" y2="357.67" stroke="#444" stroke-width="0.8"/>
<polyline points="488.39,355.61 485.07,357.67 488.39,359.74" fill="none" stroke="#222" stroke-width="0.9"/>
<polyline points="490.6,351.5 518,351.5 527.4,354.4" fill="none" stroke="#686868" stroke-width="1"/>
<polyline points="490.6,357.5 518,357.5 527.4,354.4" fill="none" stroke="#686868" stroke-width="1"/>
<circle cx="527.6" cy="354.4" r="1.3" fill="#222" stroke="#686868" stroke-width="0"/>
<text x="496" y="353.26" font-size="5.6" font-weight="normal" fill="#fff" stroke="#fff" stroke-width="2.2" text-anchor="start" textLength="16" lengthAdjust="spacingAndGlyphs">PU-YL</text>
<text x="496" y="353.26" font-size="5.6" font-weight="normal" fill="#1a1a1a" stroke="#1a1a1a" stroke-width="0.22" text-anchor="start" textLength="16" lengthAdjust="spacingAndGlyphs">PU-YL</text>
<text x="496" y="359.26" font-size="5.6" font-weight="normal" fill="#fff" stroke="#fff" stroke-width="2.2" text-anchor="start" textLength="16" lengthAdjust="spacingAndGlyphs">BK-OR</text>
<text x="496" y="359.26" font-size="5.6" font-weight="normal" fill="#1a1a1a" stroke="#1a1a1a" stroke-width="0.22" text-anchor="start" textLength="16" lengthAdjust="spacingAndGlyphs">BK-OR</text>
<rect x="526.2" y="345" width="43.9" height="19" rx="2" fill="none" stroke="#686868" stroke-width="1"/>
<rect x="558.3" y="348" width="15.4" height="10.5" rx="0" fill="#fff" stroke="#686868" stroke-width="1"/>
<rect x="561" y="350.5" width="9" height="5.5" rx="0" fill="none" stroke="#686868" stroke-width="0.8"/>
<polyline points="527.4,354.5 542,354.5 557,349.5" fill="none" stroke="#686868" stroke-width="1"/>
<rect x="534" y="343.5" width="5" height="2" rx="0" fill="#fff" stroke="#686868" stroke-width="0.8"/>
<rect x="548" y="364" width="5" height="2" rx="0" fill="#fff" stroke="#686868" stroke-width="0.8"/>
<text x="565.9" y="388" font-size="6.1" font-weight="normal" fill="#1a1a1a" stroke="#1a1a1a" stroke-width="0.22" text-anchor="start" textLength="41.1" lengthAdjust="spacingAndGlyphs">SPEED SENSOR</text>
<polyline points="565.9,386.5 559.5,386.5 546.4,366" fill="none" stroke="#686868" stroke-width="1"/>
<rect x="621.3" y="23.2" width="65.3" height="117.6" rx="0" fill="none" stroke="#686868" stroke-width="1" stroke-dasharray="3.5,2.5"/>
<text x="733.9" y="24" font-size="6.1" font-weight="normal" fill="#1a1a1a" stroke="#1a1a1a" stroke-width="0.22" text-anchor="start" textLength="20.6" lengthAdjust="spacingAndGlyphs">ENGINE</text>
<polyline points="733.9,21.5 711.6,21.5 688.5,30" fill="none" stroke="#686868" stroke-width="1"/>
<polygon points="687,30.5 688.92,28.47 689.78,30.82" fill="#686868"/>
<text x="704.6" y="62.8" font-size="6.1" font-weight="normal" fill="#1a1a1a" stroke="#1a1a1a" stroke-width="0.22" text-anchor="start" textLength="62.2" lengthAdjust="spacingAndGlyphs">ENGINE TEMPERATURE</text>
<text x="704.6" y="69.4" font-size="6.1" font-weight="normal" fill="#1a1a1a" stroke="#1a1a1a" stroke-width="0.22" text-anchor="start" textLength="44" lengthAdjust="spacingAndGlyphs">SENSOR SWITCH</text>
<polyline points="704.6,63.5 694,63.5 663.5,78" fill="none" stroke="#686868" stroke-width="1"/>
<text x="624.4" y="32.8" font-size="6.1" font-weight="normal" fill="#1a1a1a" stroke="#1a1a1a" stroke-width="0.22" text-anchor="start" textLength="27.5" lengthAdjust="spacingAndGlyphs">MAGNETO</text>
<circle cx="652.1" cy="56.7" r="17.6" fill="none" stroke="#686868" stroke-width="0.9" stroke-dasharray="2.5,2"/>
<polyline points="645.8,45.5 653.5,45.5 653.5,47" fill="none" stroke="#686868" stroke-width="1"/>
<polygon points="653.5,51 651.4,46.8 655.6,46.8" fill="#686868"/>
<polyline points="644.5,46.2 644.5,68.9" fill="none" stroke="#686868" stroke-width="1.1" stroke-dasharray="0.9,1.1"/>
<polyline points="647.4,46.2 647.4,68.9" fill="none" stroke="#686868" stroke-width="0.8"/>
<polyline points="649,47.5 649,68" fill="none" stroke="#686868" stroke-width="0.6"/>
<polyline points="661.5,51 661.5,64.5" fill="none" stroke="#686868" stroke-width="1.1" stroke-dasharray="0.9,1.1"/>
<polyline points="657.5,51.3 657.5,64.1" fill="none" stroke="#686868" stroke-width="0.8"/>
<polyline points="652,36 651,38.5 653,38.5" fill="none" stroke="#686868" stroke-width="0.6"/>
<text x="629.8" y="47.86" font-size="5.6" font-weight="normal" fill="#fff" stroke="#fff" stroke-width="2.2" text-anchor="start" textLength="6.1" lengthAdjust="spacingAndGlyphs">BK</text>
<text x="629.8" y="47.86" font-size="5.6" font-weight="normal" fill="#1a1a1a" stroke="#1a1a1a" stroke-width="0.22" text-anchor="start" textLength="6.1" lengthAdjust="spacingAndGlyphs">BK</text>
<text x="623.7" y="70.86" font-size="5.6" font-weight="normal" fill="#fff" stroke="#fff" stroke-width="2.2" text-anchor="start" textLength="16.2" lengthAdjust="spacingAndGlyphs">BK-RE</text>
<text x="623.7" y="70.86" font-size="5.6" font-weight="normal" fill="#1a1a1a" stroke="#1a1a1a" stroke-width="0.22" text-anchor="start" textLength="16.2" lengthAdjust="spacingAndGlyphs">BK-RE</text>
<text x="673.66" y="40.4" font-size="5.6" font-weight="normal" fill="#fff" stroke="#fff" stroke-width="2.2" transform="rotate(-90 673.66 40.4)" textLength="15.5" lengthAdjust="spacingAndGlyphs">YL-BK</text>
<text x="673.66" y="40.4" font-size="5.6" font-weight="normal" fill="#1a1a1a" stroke="#1a1a1a" stroke-width="0.22" transform="rotate(-90 673.66 40.4)" textLength="15.5" lengthAdjust="spacingAndGlyphs">YL-BK</text>
<text x="679.46" y="58" font-size="5.6" font-weight="normal" fill="#fff" stroke="#fff" stroke-width="2.2" transform="rotate(-90 679.46 58)" textLength="6" lengthAdjust="spacingAndGlyphs">YL</text>
<text x="679.46" y="58" font-size="5.6" font-weight="normal" fill="#1a1a1a" stroke="#1a1a1a" stroke-width="0.22" transform="rotate(-90 679.46 58)" textLength="6" lengthAdjust="spacingAndGlyphs">YL</text>
<rect x="639.6" y="78.6" width="23.1" height="5.3" rx="0" fill="#fff" stroke="#686868" stroke-width="0.9"/>
<polyline points="644,79 646,83.5 650,79 654,83.5 658,79" fill="none" stroke="#686868" stroke-width="0.6"/>
<circle cx="645" cy="81.2" r="2" fill="none" stroke="#686868" stroke-width="0.6"/>
<polyline points="662.7,81.5 674.5,81.5 674.5,84" fill="none" stroke="#686868" stroke-width="1"/>
<polygon points="674.6,87 673.1,84 676.1,84" fill="#686868"/>
<text x="588.4" y="93.7" font-size="6.1" font-weight="normal" fill="#1a1a1a" stroke="#1a1a1a" stroke-width="0.22" text-anchor="start" textLength="37.4" lengthAdjust="spacingAndGlyphs">SPARK PLUGS</text>
<polyline points="626,92 637,93" fill="none" stroke="#686868" stroke-width="1"/>
<polygon points="639,93.3 636.4,94.33 636.62,91.84" fill="#686868"/>
<polyline points="642.9,91.5 650.2,91.5" fill="none" stroke="#686868" stroke-width="1"/>
<polyline points="642.9,96.5 650.2,96.5" fill="none" stroke="#686868" stroke-width="1"/>
<polygon points="642.5,91 645,89.75 645,92.25" fill="#686868"/>
<polygon points="642.5,96.1 645,94.85 645,97.35" fill="#686868"/>
<polyline points="642.5,89 642.5,98" fill="none" stroke="#686868" stroke-width="1"/>
<rect x="650.2" y="89.3" width="11.4" height="3.3" rx="0" fill="none" stroke="#686868" stroke-width="0.9"/>
<rect x="650.2" y="94.5" width="11.4" height="3.5" rx="0" fill="none" stroke="#686868" stroke-width="0.9"/>
<polyline points="661.6,91.5 710.5,91.5 710.5,221" fill="none" stroke="#686868" stroke-width="1"/>
<polyline points="661.6,96.5 699.5,96.5 699.5,221" fill="none" stroke="#686868" stroke-width="1"/>
<text x="666.4" y="92.96" font-size="5.6" font-weight="normal" fill="#fff" stroke="#fff" stroke-width="2.2" text-anchor="start" textLength="8.2" lengthAdjust="spacingAndGlyphs">BK</text>
<text x="666.4" y="92.96" font-size="5.6" font-weight="normal" fill="#1a1a1a" stroke="#1a1a1a" stroke-width="0.22" text-anchor="start" textLength="8.2" lengthAdjust="spacingAndGlyphs">BK</text>
<text x="666.4" y="98.06" font-size="5.6" font-weight="normal" fill="#fff" stroke="#fff" stroke-width="2.2" text-anchor="start" textLength="8.2" lengthAdjust="spacingAndGlyphs">BK</text>
<text x="666.4" y="98.06" font-size="5.6" font-weight="normal" fill="#1a1a1a" stroke="#1a1a1a" stroke-width="0.22" text-anchor="start" textLength="8.2" lengthAdjust="spacingAndGlyphs">BK</text>
<text x="701.36" y="212" font-size="5.6" font-weight="normal" fill="#fff" stroke="#fff" stroke-width="2.2" transform="rotate(-90 701.36 212)" textLength="8" lengthAdjust="spacingAndGlyphs">BK</text>
<text x="701.36" y="212" font-size="5.6" font-weight="normal" fill="#1a1a1a" stroke="#1a1a1a" stroke-width="0.22" transform="rotate(-90 701.36 212)" textLength="8" lengthAdjust="spacingAndGlyphs">BK</text>
<text x="712.56" y="212" font-size="5.6" font-weight="normal" fill="#fff" stroke="#fff" stroke-width="2.2" transform="rotate(-90 712.56 212)" textLength="8" lengthAdjust="spacingAndGlyphs">BK</text>
<text x="712.56" y="212" font-size="5.6" font-weight="normal" fill="#1a1a1a" stroke="#1a1a1a" stroke-width="0.22" transform="rotate(-90 712.56 212)" textLength="8" lengthAdjust="spacingAndGlyphs">BK</text>
<polyline points="565.7,101.5 582.75,101.5" fill="none" stroke="#686868" stroke-width="1"/>
<polyline points="590.9,101.5 635.6,101.5 630.5,113.5" fill="none" stroke="#686868" stroke-width="1"/>
<text x="571.7" y="103.76" font-size="5.6" font-weight="normal" fill="#fff" stroke="#fff" stroke-width="2.2" text-anchor="start" textLength="7.5" lengthAdjust="spacingAndGlyphs">BK</text>
<text x="571.7" y="103.76" font-size="5.6" font-weight="normal" fill="#1a1a1a" stroke="#1a1a1a" stroke-width="0.22" text-anchor="start" textLength="7.5" lengthAdjust="spacingAndGlyphs">BK</text>
<text x="595.75" y="103.76" font-size="5.6" font-weight="normal" fill="#fff" stroke="#fff" stroke-width="2.2" text-anchor="start" textLength="7.25" lengthAdjust="spacingAndGlyphs">BK</text>
<text x="595.75" y="103.76" font-size="5.6" font-weight="normal" fill="#1a1a1a" stroke="#1a1a1a" stroke-width="0.22" text-anchor="start" textLength="7.25" lengthAdjust="spacingAndGlyphs">BK</text>
<rect x="582.75" y="99" width="8.15" height="5.7" rx="0" fill="#fff" stroke="#333" stroke-width="1"/>
<line x1="582.75" y1="101.85" x2="590.9" y2="101.85" stroke="#444" stroke-width="0.8"/>
<polyline points="588.62,100.03 585.19,101.85 588.62,103.67" fill="none" stroke="#222" stroke-width="0.9"/>
<polyline points="576.5,160 576.5,109.5 629.5,109.5 629.5,114.8" fill="none" stroke="#686868" stroke-width="1"/>
<text x="596" y="111.86" font-size="5.6" font-weight="normal" fill="#fff" stroke="#fff" stroke-width="2.2" text-anchor="start" textLength="7" lengthAdjust="spacingAndGlyphs">BK</text>
<text x="596" y="111.86" font-size="5.6" font-weight="normal" fill="#1a1a1a" stroke="#1a1a1a" stroke-width="0.22" text-anchor="start" textLength="7" lengthAdjust="spacingAndGlyphs">BK</text>
<text x="578.36" y="151.9" font-size="5.6" font-weight="normal" fill="#fff" stroke="#fff" stroke-width="2.2" transform="rotate(-90 578.36 151.9)" textLength="6.9" lengthAdjust="spacingAndGlyphs">BK</text>
<text x="578.36" y="151.9" font-size="5.6" font-weight="normal" fill="#1a1a1a" stroke="#1a1a1a" stroke-width="0.22" transform="rotate(-90 578.36 151.9)" textLength="6.9" lengthAdjust="spacingAndGlyphs">BK</text>
<polyline points="576.4,160 583.2,162" fill="none" stroke="#686868" stroke-width="1"/>
<rect x="625" y="114" width="4" height="22" rx="0" fill="none" stroke="#686868" stroke-width="1"/>
<rect x="629" y="116.4" width="23.6" height="15.5" rx="0" fill="none" stroke="#686868" stroke-width="1"/>
<polyline points="629,116.5 646,116.5" fill="none" stroke="#888" stroke-width="1.6"/>
<polyline points="642,117.5 650,117.5" fill="none" stroke="#686868" stroke-width="0.8"/>
<polyline points="646,113.5 646,121" fill="none" stroke="#686868" stroke-width="0.8"/>
<polyline points="646,117 652,109.5 658.5,109.5 658.5,221" fill="none" stroke="#686868" stroke-width="1"/>
<text x="660.26" y="121.3" font-size="5.6" font-weight="normal" fill="#fff" stroke="#fff" stroke-width="2.2" transform="rotate(-90 660.26 121.3)" textLength="7.3" lengthAdjust="spacingAndGlyphs">RE</text>
<text x="660.26" y="121.3" font-size="5.6" font-weight="normal" fill="#1a1a1a" stroke="#1a1a1a" stroke-width="0.22" transform="rotate(-90 660.26 121.3)" textLength="7.3" lengthAdjust="spacingAndGlyphs">RE</text>
<polyline points="636,112 640,107" fill="none" stroke="#686868" stroke-width="0.8"/>
<text x="585" y="151.2" font-size="6.1" font-weight="normal" fill="#1a1a1a" stroke="#1a1a1a" stroke-width="0.22" text-anchor="start" textLength="23.6" lengthAdjust="spacingAndGlyphs">STARTER</text>
<polyline points="608.6,149.5 630,149.5 637.9,134" fill="none" stroke="#686868" stroke-width="1"/>
<rect x="583.2" y="158.2" width="25.4" height="17.3" rx="0" fill="none" stroke="#686868" stroke-width="1"/>
<polyline points="608.6,163.5 651.5,163.5 651.5,222" fill="none" stroke="#686868" stroke-width="1"/>
<text x="613.1" y="165.06" font-size="5.6" font-weight="normal" fill="#fff" stroke="#fff" stroke-width="2.2" text-anchor="start" textLength="6.8" lengthAdjust="spacingAndGlyphs">RE</text>
<text x="613.1" y="165.06" font-size="5.6" font-weight="normal" fill="#1a1a1a" stroke="#1a1a1a" stroke-width="0.22" text-anchor="start" textLength="6.8" lengthAdjust="spacingAndGlyphs">RE</text>
<text x="617.2" y="189.2" font-size="6.1" font-weight="normal" fill="#1a1a1a" stroke="#1a1a1a" stroke-width="0.22" text-anchor="start" textLength="24" lengthAdjust="spacingAndGlyphs">BATTERY</text>
<polyline points="617.2,187.5 600.75,187.5 592.9,177.5" fill="none" stroke="#686868" stroke-width="1"/>
<polyline points="587,163 589,163" fill="none" stroke="#686868" stroke-width="0.7"/>
<polyline points="600,163 603,163" fill="none" stroke="#686868" stroke-width="0.7"/>
<polyline points="601.5,161.5 601.5,164.5" fill="none" stroke="#686868" stroke-width="0.7"/>
<rect x="625" y="197.6" width="120" height="84.4" rx="0" fill="none" stroke="#686868" stroke-width="1" stroke-dasharray="3.5,2.5"/>
<rect x="593" y="258.5" width="7.4" height="10" rx="0" fill="none" stroke="#686868" stroke-width="0.9"/>
<polyline points="594.5,260 599,263 594.5,266" fill="none" stroke="#686868" stroke-width="0.8"/>
<rect x="593" y="233" width="7.4" height="25.5" rx="0" fill="#fff" stroke="#333" stroke-width="1"/>
<line x1="593" y1="236.19" x2="600.4" y2="236.19" stroke="#444" stroke-width="0.8"/>
<polyline points="598.33,234.15 595.22,236.19 598.33,238.23" fill="none" stroke="#222" stroke-width="0.9"/>
<line x1="593" y1="239.38" x2="600.4" y2="239.38" stroke="#555" stroke-width="0.7"/>
<line x1="593" y1="242.56" x2="600.4" y2="242.56" stroke="#444" stroke-width="0.8"/>
<polyline points="598.33,240.52 595.22,242.56 598.33,244.6" fill="none" stroke="#222" stroke-width="0.9"/>
<line x1="593" y1="245.75" x2="600.4" y2="245.75" stroke="#555" stroke-width="0.7"/>
<line x1="593" y1="248.94" x2="600.4" y2="248.94" stroke="#444" stroke-width="0.8"/>
<polyline points="598.33,246.9 595.22,248.94 598.33,250.98" fill="none" stroke="#222" stroke-width="0.9"/>
<line x1="593" y1="252.12" x2="600.4" y2="252.12" stroke="#555" stroke-width="0.7"/>
<line x1="593" y1="255.31" x2="600.4" y2="255.31" stroke="#444" stroke-width="0.8"/>
<polyline points="598.33,253.27 595.22,255.31 598.33,257.35" fill="none" stroke="#222" stroke-width="0.9"/>
<ellipse cx="683" cy="237.75" rx="94.5" ry="82.15" fill="none" stroke="#111" stroke-width="1.6"/>
<polyline points="600.4,236.5 629.5,236.5 629.5,232" fill="none" stroke="#686868" stroke-width="1"/>
<polyline points="600.4,242.5 649,242.5" fill="none" stroke="#686868" stroke-width="1"/>
<polyline points="600.4,248.5 638.5,248.5 638.5,271.5 730.5,271.5 730.5,263.6" fill="none" stroke="#686868" stroke-width="1"/>
<polyline points="600.4,253.5 633.5,253.5 633.5,274.5 739.5,274.5 739.5,257.6" fill="none" stroke="#686868" stroke-width="1"/>
<polyline points="643.5,250 643.5,267.5 690,267.5" fill="none" stroke="#686868" stroke-width="1"/>
<text x="607.5" y="238.36" font-size="5.6" font-weight="normal" fill="#fff" stroke="#fff" stroke-width="2.2" text-anchor="start" textLength="15.2" lengthAdjust="spacingAndGlyphs">RE-PU</text>
<text x="607.5" y="238.36" font-size="5.6" font-weight="normal" fill="#1a1a1a" stroke="#1a1a1a" stroke-width="0.22" text-anchor="start" textLength="15.2" lengthAdjust="spacingAndGlyphs">RE-PU</text>
<text x="607.5" y="244.16" font-size="5.6" font-weight="normal" fill="#fff" stroke="#fff" stroke-width="2.2" text-anchor="start" textLength="14.3" lengthAdjust="spacingAndGlyphs">YL-RE</text>
<text x="607.5" y="244.16" font-size="5.6" font-weight="normal" fill="#1a1a1a" stroke="#1a1a1a" stroke-width="0.22" text-anchor="start" textLength="14.3" lengthAdjust="spacingAndGlyphs">YL-RE</text>
<text x="607.5" y="249.96" font-size="5.6" font-weight="normal" fill="#fff" stroke="#fff" stroke-width="2.2" text-anchor="start" textLength="7.1" lengthAdjust="spacingAndGlyphs">BK</text>
<text x="607.5" y="249.96" font-size="5.6" font-weight="normal" fill="#1a1a1a" stroke="#1a1a1a" stroke-width="0.22" text-anchor="start" textLength="7.1" lengthAdjust="spacingAndGlyphs">BK</text>
<text x="607.5" y="255.76" font-size="5.6" font-weight="normal" fill="#fff" stroke="#fff" stroke-width="2.2" text-anchor="start" textLength="8.5" lengthAdjust="spacingAndGlyphs">WH</text>
<text x="607.5" y="255.76" font-size="5.6" font-weight="normal" fill="#1a1a1a" stroke="#1a1a1a" stroke-width="0.22" text-anchor="start" textLength="8.5" lengthAdjust="spacingAndGlyphs">WH</text>
<path d="M629,232 L629,228 Q631,225 633,227 Q635,224 637,227 Q639,224 641,227 Q643,224 645,227 L647,227" fill="none" stroke="#686868" stroke-width="0.8"/>
<text x="636" y="221" font-size="6.1" font-weight="normal" fill="#1a1a1a" stroke="#1a1a1a" stroke-width="0.22" text-anchor="start" textLength="9" lengthAdjust="spacingAndGlyphs">15A</text>
<rect x="646.4" y="221.6" width="15.6" height="28.4" rx="0" fill="none" stroke="#686868" stroke-width="1"/>
<path d="M651.5,227 L651.5,232 Q654,233 651.5,235 Q654,237 651.5,239 Q654,241 651.5,243" fill="none" stroke="#686868" stroke-width="0.8"/>
<text x="652.96" y="212" font-size="5.6" font-weight="normal" fill="#fff" stroke="#fff" stroke-width="2.2" transform="rotate(-90 652.96 212)" textLength="7" lengthAdjust="spacingAndGlyphs">RE</text>
<text x="652.96" y="212" font-size="5.6" font-weight="normal" fill="#1a1a1a" stroke="#1a1a1a" stroke-width="0.22" transform="rotate(-90 652.96 212)" textLength="7" lengthAdjust="spacingAndGlyphs">RE</text>
<text x="660.56" y="212" font-size="5.6" font-weight="normal" fill="#fff" stroke="#fff" stroke-width="2.2" transform="rotate(-90 660.56 212)" textLength="7" lengthAdjust="spacingAndGlyphs">RE</text>
<text x="660.56" y="212" font-size="5.6" font-weight="normal" fill="#1a1a1a" stroke="#1a1a1a" stroke-width="0.22" transform="rotate(-90 660.56 212)" textLength="7" lengthAdjust="spacingAndGlyphs">RE</text>
<text x="663" y="204.5" font-size="6.1" font-weight="normal" fill="#1a1a1a" stroke="#1a1a1a" stroke-width="0.22" text-anchor="start" textLength="29" lengthAdjust="spacingAndGlyphs">SOLENOID</text>
<polyline points="692,206.5 678,206.5 664,220" fill="none" stroke="#686868" stroke-width="1"/>
<text x="644.96" y="257" font-size="5.6" font-weight="normal" fill="#fff" stroke="#fff" stroke-width="2.2" transform="rotate(-90 644.96 257)" textLength="7" lengthAdjust="spacingAndGlyphs">BK</text>
<text x="644.96" y="257" font-size="5.6" font-weight="normal" fill="#1a1a1a" stroke="#1a1a1a" stroke-width="0.22" transform="rotate(-90 644.96 257)" textLength="7" lengthAdjust="spacingAndGlyphs">BK</text>
<rect x="695" y="221" width="20" height="29" rx="0" fill="none" stroke="#686868" stroke-width="1"/>
<rect x="703" y="215.6" width="6" height="5.4" rx="0" fill="none" stroke="#686868" stroke-width="0.9"/>
<polyline points="698.5,234.5 711.5,234.5" fill="none" stroke="#333" stroke-width="1.4"/>
<polyline points="698.5,237.5 711.5,237.5" fill="none" stroke="#333" stroke-width="1.4"/>
<rect x="700" y="240" width="10" height="10" rx="0" fill="none" stroke="#686868" stroke-width="0.8"/>
<text x="732.7" y="224.4" font-size="6.1" font-weight="normal" fill="#1a1a1a" stroke="#1a1a1a" stroke-width="0.22" text-anchor="start" textLength="38.7" lengthAdjust="spacingAndGlyphs">IGNITION COIL</text>
<polyline points="732.7,222.5 722,222.5 715.5,226" fill="none" stroke="#686868" stroke-width="1"/>
<circle cx="705" cy="254.5" r="1.8" fill="none" stroke="#686868" stroke-width="0.9"/>
<polyline points="705.5,256 705.5,262 699,267.5 696,267.5" fill="none" stroke="#686868" stroke-width="1"/>
<polyline points="699,251.5 696,257" fill="none" stroke="#686868" stroke-width="1"/>
<polyline points="711,251.5 715,257" fill="none" stroke="#686868" stroke-width="1"/>
<polyline points="699,252 696,257 699,262.3 696,262.3" fill="none" stroke="#686868" stroke-width="0.8"/>
<polyline points="715,257 719,257.6 729.5,257.6" fill="none" stroke="#686868" stroke-width="0.8"/>
<polyline points="705,256 712,263.6 729,263.6" fill="none" stroke="#686868" stroke-width="0.8"/>
<polyline points="700,221 700,233" fill="none" stroke="#686868" stroke-width="0.8"/>
<polyline points="710,221 710,233" fill="none" stroke="#686868" stroke-width="0.8"/>
<text x="729.5" y="259.56" font-size="5.6" font-weight="normal" fill="#fff" stroke="#fff" stroke-width="2.2" text-anchor="start" textLength="9.5" lengthAdjust="spacingAndGlyphs">WH</text>
<text x="729.5" y="259.56" font-size="5.6" font-weight="normal" fill="#1a1a1a" stroke="#1a1a1a" stroke-width="0.22" text-anchor="start" textLength="9.5" lengthAdjust="spacingAndGlyphs">WH</text>
<text x="729" y="265.56" font-size="5.6" font-weight="normal" fill="#fff" stroke="#fff" stroke-width="2.2" text-anchor="start" textLength="9" lengthAdjust="spacingAndGlyphs">BK</text>
<text x="729" y="265.56" font-size="5.6" font-weight="normal" fill="#1a1a1a" stroke="#1a1a1a" stroke-width="0.22" text-anchor="start" textLength="9" lengthAdjust="spacingAndGlyphs">BK</text>
<text x="689.5" y="264.05" font-size="5" font-weight="normal" fill="#fff" stroke="#fff" stroke-width="2.2" text-anchor="start" textLength="7" lengthAdjust="spacingAndGlyphs">BK</text>
<text x="689.5" y="264.05" font-size="5" font-weight="normal" fill="#1a1a1a" stroke="#1a1a1a" stroke-width="0.22" text-anchor="start" textLength="7" lengthAdjust="spacingAndGlyphs">BK</text>
<text x="689.5" y="269.25" font-size="5" font-weight="normal" fill="#fff" stroke="#fff" stroke-width="2.2" text-anchor="start" textLength="7" lengthAdjust="spacingAndGlyphs">BK</text>
<text x="689.5" y="269.25" font-size="5" font-weight="normal" fill="#1a1a1a" stroke="#1a1a1a" stroke-width="0.22" text-anchor="start" textLength="7" lengthAdjust="spacingAndGlyphs">BK</text>
<text x="701.8" y="310" font-size="6.1" font-weight="normal" fill="#1a1a1a" stroke="#1a1a1a" stroke-width="0.22" text-anchor="start" textLength="48.2" lengthAdjust="spacingAndGlyphs">REAR ELECTRICAL</text>
<text x="701.8" y="316.6" font-size="6.1" font-weight="normal" fill="#1a1a1a" stroke="#1a1a1a" stroke-width="0.22" text-anchor="start" textLength="11" lengthAdjust="spacingAndGlyphs">BOX</text>
<polyline points="701.8,311.5 661.2,311.5 674,284" fill="none" stroke="#686868" stroke-width="1"/>
<polygon points="432,458.5 439,465.75 432,473 425,465.75" fill="#111"/>
<text x="445" y="471.8" font-size="17" font-weight="normal" fill="#333" text-anchor="start" textLength="78.75" lengthAdjust="spacingAndGlyphs">WARNING</text>
<text x="529.5" y="471.8" font-size="17" font-weight="normal" fill="#333" text-anchor="start">:</text>
<text x="541.25" y="464" font-size="4.8" font-weight="normal" fill="#333" text-anchor="start" textLength="30" lengthAdjust="spacingAndGlyphs">ENSURE ALL</text>
<text x="541.25" y="470.5" font-size="4.8" font-weight="normal" fill="#333" text-anchor="start" textLength="28" lengthAdjust="spacingAndGlyphs">CRIMPED C</text>
<text x="541.25" y="477" font-size="4.8" font-weight="normal" fill="#333" text-anchor="start" textLength="28" lengthAdjust="spacingAndGlyphs">HOUSING A</text>
<text x="59" y="482" font-size="4.6" font-weight="bold" fill="#1a1a1a" stroke="#1a1a1a" stroke-width="0.22" text-anchor="start" textLength="17" lengthAdjust="spacingAndGlyphs">F00Z04</text>
<rect x="709.4" y="422" width="77.1" height="63" rx="0" fill="none" stroke="#666" stroke-width="1"/>
<polyline points="709.4,437 786.5,437" fill="none" stroke="#666" stroke-width="0.9"/>
<text x="734" y="431.8" font-size="4.4" font-weight="normal" fill="#1a1a1a" stroke="#1a1a1a" stroke-width="0.15" text-anchor="start" textLength="27" lengthAdjust="spacingAndGlyphs">COLOR CODE</text>
<text x="716.6" y="445.8" font-size="4.4" font-weight="normal" fill="#1a1a1a" stroke="#1a1a1a" stroke-width="0.15" text-anchor="start" textLength="24.8" lengthAdjust="spacingAndGlyphs">WH = WHITE</text>
<text x="716.6" y="451.5" font-size="4.4" font-weight="normal" fill="#1a1a1a" stroke="#1a1a1a" stroke-width="0.15" text-anchor="start" textLength="24" lengthAdjust="spacingAndGlyphs">BK = BLACK</text>
<text x="768" y="476" font-size="4.4" font-weight="normal" fill="#1a1a1a" stroke="#1a1a1a" stroke-width="0.15" text-anchor="start" textLength="10.7" lengthAdjust="spacingAndGlyphs">RANGE</text>
<text x="738.3" y="500" font-size="4" font-weight="normal" fill="#555" stroke="#555" stroke-width="0.15" text-anchor="start" textLength="47" lengthAdjust="spacingAndGlyphs">SMR2001-037_18_00A.FM</text>
<path d="M573,479.8 L714,479.8 L714,476.6 L719.3,476.6 L722.2,473.8 L717.9,471 C715.5,466 715.5,459 717.2,455 C717.5,452.5 718.5,451 719.8,450 C718.8,446.5 720.8,443 724.2,443 C727.6,443 729.3,446 728.6,448.6 L733,448.2 L740.8,445.9 L746.5,445.2 L750.8,440.9 L758,440.2 L768,440.2 L776.5,436.6 L783,435.2 C785,436 785.2,438 784.4,439.4 C784,443 783,447 782.3,449.5 L776.5,465.2 C773,471 771,473 768,476.7 C765,480 762,482 759.4,483.8 C755,486 752,488 748,489.5 C742,491.5 738,492.8 733.6,493.8 C728,495 724,496 719.3,496.7 L705,498.1 C680,500 655,500 640,497.5 C625,495 612,494 600,494.8 C588,495.5 578,497 567.5,497 Z" fill="#2e90d8" stroke="#141414" stroke-width="1.8"/>
<path d="M574.5,475.6 L714,475.6 L714,479.6 L573.5,479.6 Z" fill="#e87b1c" stroke="#141414" stroke-width="1.2"/>
<path d="M578.5,452.4 L675,452.4 L677.5,458.8 L716,458.8 L713.6,475.4 L571,475.4 Z" fill="#141414" stroke="none" stroke-width="0"/>
<text x="578.5" y="473.2" font-size="26.5" font-weight="bold" font-style="italic" fill="#e87b1c" stroke="#e87b1c" stroke-width="1.6" stroke-linejoin="round" textLength="92" lengthAdjust="spacingAndGlyphs">Gidrik</text>
<text x="683" y="473.2" font-size="26.5" font-weight="bold" font-style="italic" fill="#e87b1c" stroke="#e87b1c" stroke-width="1.6" stroke-linejoin="round" textLength="31" lengthAdjust="spacingAndGlyphs">ru</text>
<path d="M670,467.8 L686.5,467.8 L685.5,473 L669,473 Z" fill="#e87b1c" stroke="#141414" stroke-width="1.4"/>
<text x="575" y="491.8" font-size="11.4" font-weight="bold" font-style="italic" fill="#fff" stroke="#fff" stroke-width="0.7" textLength="139" lengthAdjust="spacingAndGlyphs">КЛУБ ЛЮБИТЕЛЕЙ ГИДРОЦИКЛОВ</text>
<path d="M728.6,456 L733,453.6 L739.3,452.6 L737,455.4 Z" fill="#141414" stroke="#141414" stroke-width="1.3"/>
<path d="M730.8,461.8 L737,459.5 L743.6,456.2 L741,460.4 L734,462.4 Z" fill="#141414" stroke="#141414" stroke-width="1.3"/>
<polyline points="743.6,473.8 755.8,463.8" fill="none" stroke="#141414" stroke-width="1.1"/>
<polyline points="725.7,482.4 732.2,478" fill="none" stroke="#141414" stroke-width="1.2"/>
<polyline points="739.3,469.5 746.5,462.3" fill="none" stroke="#dff" stroke-width="0.7"/>
<polyline points="748,467 752,463" fill="none" stroke="#dff" stroke-width="0.7"/>
<polyline points="755,452.5 756,455" fill="none" stroke="#dff" stroke-width="0.7"/>
<polyline points="727,476 733,472.5" fill="none" stroke="#dff" stroke-width="0.7"/>
</svg></body></html>
